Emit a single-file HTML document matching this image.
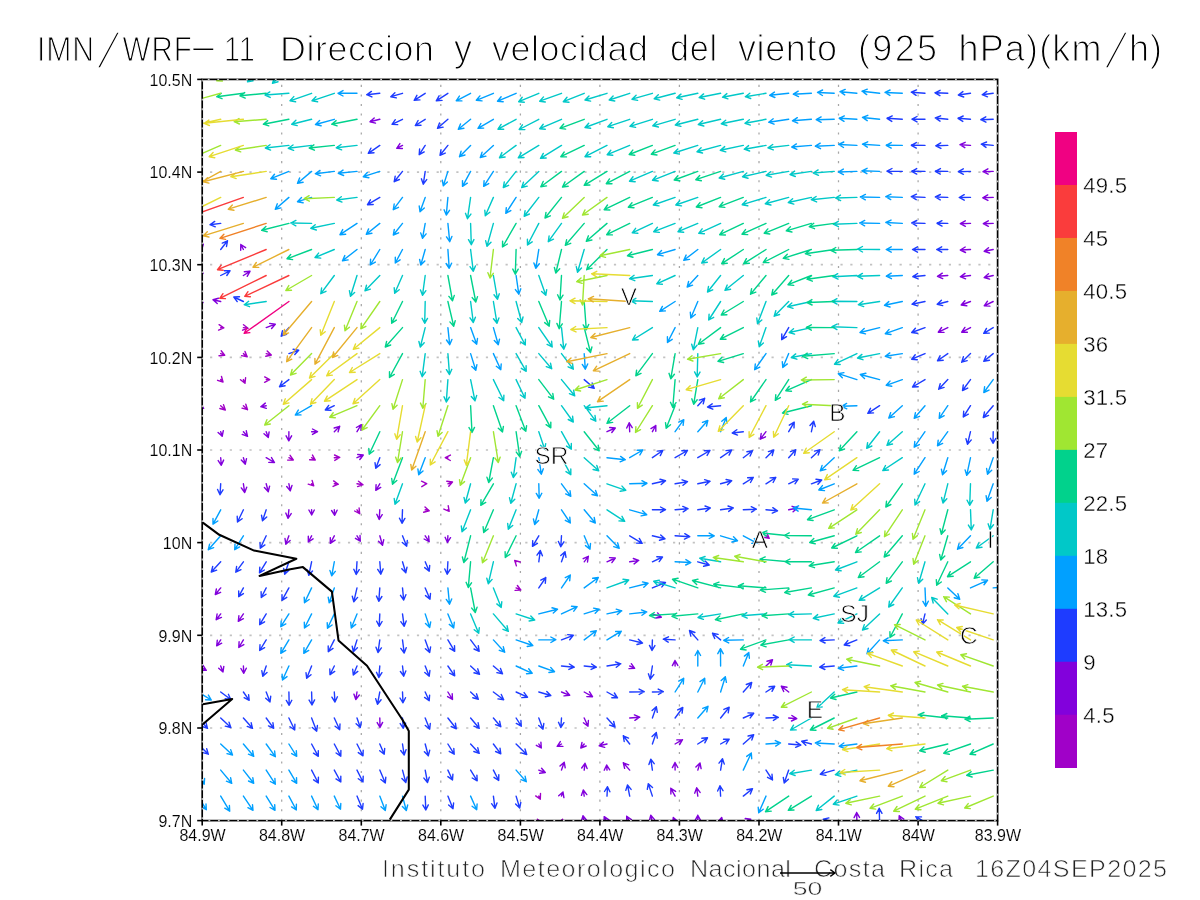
<!DOCTYPE html>
<html lang="es"><head><meta charset="utf-8">
<title>IMN/WRF-11 Direccion y velocidad del viento (925 hPa)(km/h)</title>
<style>
html,body{margin:0;padding:0;background:#fff;}
body{width:1200px;height:900px;overflow:hidden;}
svg{display:block;font-family:"Liberation Sans",sans-serif;will-change:transform;opacity:.999;}
.thin{stroke:#fff;stroke-width:1.3px;paint-order:fill stroke;}
</style></head><body>
<svg width="1200" height="900" viewBox="0 0 1200 900">
<rect width="1200" height="900" fill="#fff"/>
<defs><clipPath id="fr"><rect x="202.2" y="79.4" width="795.4000000000001" height="741.2"/></clipPath></defs>
<g fill="none"><g stroke="#a6a6a6" stroke-width="1.25" stroke-dasharray="2.1 7.43" stroke-dashoffset="4.08"><line x1="281.7" y1="79.4" x2="281.7" y2="820.6"/><line x1="361.3" y1="79.4" x2="361.3" y2="820.6"/><line x1="440.8" y1="79.4" x2="440.8" y2="820.6"/><line x1="520.4" y1="79.4" x2="520.4" y2="820.6"/><line x1="599.9" y1="79.4" x2="599.9" y2="820.6"/><line x1="679.4" y1="79.4" x2="679.4" y2="820.6"/><line x1="759.0" y1="79.4" x2="759.0" y2="820.6"/><line x1="838.5" y1="79.4" x2="838.5" y2="820.6"/><line x1="918.1" y1="79.4" x2="918.1" y2="820.6"/></g><g stroke="#c2c2c2" stroke-width="1.7" stroke-dasharray="2.2 7.65" stroke-dashoffset="2"><line x1="202.2" y1="172.1" x2="997.6" y2="172.1"/><line x1="202.2" y1="264.7" x2="997.6" y2="264.7"/><line x1="202.2" y1="357.4" x2="997.6" y2="357.4"/><line x1="202.2" y1="450.0" x2="997.6" y2="450.0"/><line x1="202.2" y1="542.6" x2="997.6" y2="542.6"/><line x1="202.2" y1="635.3" x2="997.6" y2="635.3"/><line x1="202.2" y1="728.0" x2="997.6" y2="728.0"/></g></g>
<g clip-path="url(#fr)" fill="none" stroke-width="1.4" stroke-linecap="round" stroke-linejoin="round">
<path stroke="#a000c8" d="M220.7 327.6L223.8 327.8M219.1 324.7L223.8 327.8L218.6 330.1M243.4 327.6L248.0 328.3M243.5 324.8L248.0 328.3L242.6 330.2M220.7 353.6L224.7 355.3M221.2 350.8L224.7 355.3L219.0 355.8M243.4 353.6L247.2 356.7M245.0 351.4L247.2 356.7L241.6 355.6M266.2 353.6L271.3 355.0M267.2 351.1L271.3 355.0L265.8 356.3M220.7 379.6L223.0 382.0M221.5 376.5L223.0 382.0L217.6 380.3M243.4 379.6L245.0 383.3M245.6 377.7L245.0 383.3L240.5 379.8M266.2 379.6L269.7 379.7M264.7 376.9L269.7 379.7L264.6 382.3M220.7 405.7L225.3 410.0M223.5 404.6L225.3 410.0L219.8 408.5M243.4 405.7L247.5 409.7M245.8 404.2L247.5 409.7L242.0 408.1M288.9 457.7L293.3 460.0M290.1 455.3L293.3 460.0L287.6 460.1M311.6 457.7L315.3 460.0M312.5 455.1L315.3 460.0L309.6 459.7M334.3 457.7L339.7 457.5M334.5 455.0L339.7 457.5L334.8 460.4M447.9 457.7L445.3 457.7M450.3 460.5L445.3 457.7L450.4 455.1M311.6 483.8L313.7 485.8M312.1 480.4L313.7 485.8L308.2 484.2M334.3 483.8L338.3 484.2M333.6 480.9L338.3 484.2L333.1 486.4M357.0 483.8L363.0 484.7M358.5 481.2L363.0 484.7L357.6 486.6M357.0 509.8L359.7 513.7M359.1 508.0L359.7 513.7L354.6 511.0M425.2 483.8L426.7 483.7M421.5 481.2L426.7 483.7L421.8 486.7M447.9 483.8L452.5 482.0M446.8 481.2L452.5 482.0L448.8 486.3M425.2 509.8L429.2 510.8M425.0 506.9L429.2 510.8L423.6 512.2M447.9 509.8L449.2 511.3M448.2 505.7L449.2 511.3L443.9 509.1M516.1 561.8L514.7 560.5M516.4 565.9L514.7 560.5L520.2 562.0M516.1 587.9L520.8 590.0M517.4 585.5L520.8 590.0L515.1 590.4M766.0 535.8L769.2 538.3M766.9 533.1L769.2 538.3L763.6 537.3M538.8 796.1L540.3 799.2M540.5 793.5L540.3 799.2L535.7 795.9M538.8 822.1L537.5 819.2M537.0 824.8L537.5 819.2L542.0 822.7M561.5 822.1L562.5 819.2M558.3 823.1L562.5 819.2L563.5 824.8"/>
<path stroke="#8200dc" d="M379.8 119.3L370.0 121.7M375.5 123.1L370.0 121.7L374.2 117.9M402.5 145.4L396.7 148.3M402.4 148.5L396.7 148.3L399.9 143.6M970.5 145.4L960.0 144.7M964.8 147.7L960.0 144.7L965.2 142.3M993.2 171.4L983.0 171.7M988.1 174.2L983.0 171.7L987.9 168.8M993.2 197.4L982.8 197.8M987.9 200.4L982.8 197.8L987.7 194.9M198.0 249.5L203.3 244.2M197.9 245.8L203.3 244.2L201.7 249.6M243.4 249.5L240.8 244.5M240.7 250.2L240.8 244.5L245.6 247.7M198.0 275.5L203.0 273.3M197.3 272.8L203.0 273.3L199.5 277.8M243.4 275.5L250.0 271.3M244.3 271.7L250.0 271.3L247.2 276.3M198.0 301.5L203.0 302.5M198.6 298.9L203.0 302.5L197.6 304.2M220.7 301.5L213.0 299.7M217.2 303.5L213.0 299.7L218.5 298.2M266.2 327.6L275.3 324.2M269.7 323.4L275.3 324.2L271.6 328.5M970.5 223.4L960.3 223.7M965.4 226.3L960.3 223.7L965.3 220.8M993.2 223.4L983.3 223.7M988.4 226.3L983.3 223.7L988.3 220.8M970.5 249.5L960.3 250.0M965.5 252.5L960.3 250.0L965.2 247.0M993.2 249.5L984.2 251.3M989.6 253.0L984.2 251.3L988.5 247.7M947.8 275.5L937.5 276.3M942.7 278.6L937.5 276.3L942.3 273.2M970.5 275.5L960.3 276.7M965.6 278.8L960.3 276.7L965.0 273.4M993.2 275.5L984.2 277.5M989.6 279.1L984.2 277.5L988.5 273.8M970.5 301.5L961.2 305.0M966.8 305.8L961.2 305.0L964.9 300.7M993.2 301.5L984.2 305.8M989.9 306.1L984.2 305.8L987.5 301.2M947.8 327.6L938.3 332.2M944.0 332.4L938.3 332.2L941.6 327.5M970.5 327.6L961.7 332.2M967.4 332.3L961.7 332.2L964.9 327.4M198.0 405.7L203.7 408.3M200.3 403.7L203.7 408.3L198.0 408.7M266.2 405.7L260.8 406.7M266.3 408.4L260.8 406.7L265.3 403.1M220.7 431.7L222.2 436.3M223.3 430.7L222.2 436.3L218.1 432.4M243.4 431.7L247.5 436.3M246.3 430.8L247.5 436.3L242.2 434.4M266.2 431.7L268.3 437.5M269.1 431.9L268.3 437.5L264.0 433.8M288.9 431.7L288.8 440.8M291.6 435.8L288.8 440.8L286.1 435.8M311.6 431.7L317.5 431.7M312.5 429.0L317.5 431.7L312.5 434.4M334.3 431.7L339.7 426.3M334.2 428.0L339.7 426.3L338.1 431.8M357.0 431.7L361.3 424.7M356.4 427.5L361.3 424.7L361.0 430.4M220.7 457.7L221.3 465.3M223.6 460.1L221.3 465.3L218.2 460.6M243.4 457.7L245.3 464.2M246.5 458.6L245.3 464.2L241.3 460.1M266.2 457.7L274.5 462.5M271.5 457.6L274.5 462.5L268.8 462.4M357.0 457.7L363.3 455.0M357.7 454.5L363.3 455.0L359.8 459.5M607.0 431.7L615.3 428.0M609.7 427.5L615.3 428.0L611.8 432.5M629.7 431.7L629.2 422.8M626.7 428.0L629.2 422.8L632.2 427.7M652.4 431.7L655.8 425.5M651.0 428.6L655.8 425.5L655.8 431.2M766.0 431.7L760.3 439.2M765.5 436.8L760.3 439.2L761.2 433.5M243.4 483.8L244.7 492.5M246.7 487.2L244.7 492.5L241.3 487.9M266.2 483.8L268.3 491.7M269.6 486.1L268.3 491.7L264.4 487.6M288.9 483.8L290.3 490.8M292.0 485.4L290.3 490.8L286.7 486.5M379.8 483.8L375.8 490.3M380.7 487.4L375.8 490.3L376.1 484.6M288.9 509.8L288.0 518.3M291.2 513.6L288.0 518.3L285.8 513.1M311.6 509.8L311.7 515.0M314.3 510.0L311.7 515.0L308.9 510.0M334.3 509.8L334.7 515.3M337.1 510.2L334.7 515.3L331.6 510.5M379.8 509.8L379.2 519.5M382.2 514.7L379.2 519.5L376.8 514.3M288.9 535.8L285.8 544.2M290.1 540.4L285.8 544.2L285.0 538.5M311.6 535.8L308.3 542.0M313.1 538.8L308.3 542.0L308.3 536.3M334.3 535.8L330.3 543.3M335.1 540.2L330.3 543.3L330.3 537.6M357.0 535.8L360.3 541.2M360.0 535.5L360.3 541.2L355.4 538.3M379.8 535.8L382.5 545.3M383.7 539.8L382.5 545.3L378.5 541.3M220.7 587.9L215.3 594.5M220.6 592.3L215.3 594.5L216.4 588.9M425.2 535.8L429.2 541.7M428.6 536.0L429.2 541.7L424.1 539.0M447.9 535.8L447.5 542.5M450.5 537.7L447.5 542.5L445.1 537.3M584.2 561.8L588.3 556.3M583.2 558.7L588.3 556.3L587.5 562.0M788.7 509.8L797.5 508.0M792.1 506.3L797.5 508.0L793.1 511.7M607.0 561.8L615.3 558.0M609.6 557.6L615.3 558.0L611.9 562.6M629.7 561.8L638.7 560.5M633.3 558.5L638.7 560.5L634.1 563.9M220.7 613.9L216.2 619.7M221.4 617.4L216.2 619.7L217.1 614.0M243.4 613.9L238.3 621.3M243.4 618.7L238.3 621.3L238.9 615.7M220.7 639.9L216.7 645.8M221.7 643.2L216.7 645.8L217.3 640.2M243.4 639.9L238.8 647.5M243.8 644.6L238.8 647.5L239.1 641.8M198.0 666.0L206.3 670.3M203.2 665.6L206.3 670.3L200.6 670.4M220.7 666.0L223.0 672.0M223.8 666.4L223.0 672.0L218.7 668.3M243.4 666.0L243.8 673.3M246.3 668.2L243.8 673.3L240.9 668.5M357.0 692.0L355.8 699.5M359.3 695.0L355.8 699.5L353.9 694.1M379.8 718.0L380.0 727.5M382.6 722.4L380.0 727.5L377.2 722.6M447.9 692.0L452.5 699.5M452.2 693.8L452.5 699.5L447.6 696.6M561.5 692.0L569.7 695.3M566.1 690.9L569.7 695.3L564.0 695.9M584.2 692.0L592.5 696.7M589.5 691.8L592.5 696.7L586.8 696.6M584.2 718.0L588.0 726.2M588.4 720.5L588.0 726.2L583.4 722.8M652.4 613.9L661.3 617.2M657.6 612.9L661.3 617.2L655.7 618.0M629.7 666.0L634.7 668.3M631.3 663.7L634.7 668.3L629.0 668.6M675.1 666.0L675.0 660.5M672.4 665.6L675.0 660.5L677.8 665.4M766.0 666.0L772.5 659.7M767.0 661.2L772.5 659.7L770.8 665.1M788.7 692.0L781.3 686.3M783.7 691.5L781.3 686.3L787.0 687.2M629.7 718.0L639.7 717.2M634.4 714.9L639.7 717.2L634.9 720.3M788.7 718.0L796.7 718.7M791.9 715.5L796.7 718.7L791.5 721.0M538.8 744.0L541.3 748.0M540.9 742.3L541.3 748.0L536.3 745.3M561.5 744.0L557.2 746.3M562.9 746.4L557.2 746.3L560.3 741.6M584.2 744.0L580.8 748.0M586.2 746.0L580.8 748.0L582.0 742.4M538.8 770.1L545.3 772.5M541.6 768.2L545.3 772.5L539.7 773.3M561.5 770.1L564.2 762.2M560.0 766.1L564.2 762.2L565.2 767.8M584.2 770.1L585.0 763.3M581.7 768.0L585.0 763.3L587.1 768.6M561.5 796.1L563.0 792.0M558.7 795.8L563.0 792.0L563.9 797.6M584.2 796.1L583.3 790.0M581.4 795.4L583.3 790.0L586.8 794.6M584.2 822.1L583.0 815.8M581.3 821.3L583.0 815.8L586.6 820.2M607.0 744.0L599.2 745.8M604.7 747.4L599.2 745.8L603.4 742.1M675.1 744.0L682.5 739.7M676.8 739.9L682.5 739.7L679.6 744.6M607.0 770.1L606.7 765.0M604.2 770.2L606.7 765.0L609.7 769.8M629.7 770.1L623.3 762.8M624.6 768.4L623.3 762.8L628.7 764.8M675.1 770.1L675.0 762.5M672.4 767.6L675.0 762.5L677.8 767.5M697.8 770.1L700.0 763.0M695.9 767.0L700.0 763.0L701.1 768.6M675.1 796.1L670.8 788.3M670.9 794.0L670.8 788.3L675.6 791.4M697.8 796.1L696.7 787.8M694.7 793.2L696.7 787.8L700.1 792.4M607.0 822.1L604.2 816.7M604.0 822.4L604.2 816.7L608.9 819.9M629.7 822.1L626.7 816.3M626.6 822.0L626.7 816.3L631.4 819.5M652.4 822.1L650.8 815.3M649.3 820.8L650.8 815.3L654.6 819.6M675.1 822.1L673.3 817.5M672.6 823.2L673.3 817.5L677.7 821.2M697.8 822.1L697.8 815.3M695.1 820.3L697.8 815.3L700.6 820.3M720.6 822.1L721.7 817.5M717.9 821.7L721.7 817.5L723.2 823.0M743.3 822.1L750.8 819.2M745.2 818.5L750.8 819.2L747.2 823.5M856.9 822.1L856.7 812.5M854.1 817.6L856.7 812.5L859.5 817.4M902.3 822.1L899.2 815.8M899.0 821.5L899.2 815.8L903.8 819.1"/>
<path stroke="#1e3cff" d="M379.8 93.3L366.7 94.7M371.9 96.9L366.7 94.7L371.4 91.4M379.8 145.4L368.3 153.3M374.0 152.7L368.3 153.3L370.9 148.2M379.8 197.4L367.5 204.7M373.2 204.5L367.5 204.7L370.4 199.8M402.5 93.3L390.8 96.7M396.4 97.9L390.8 96.7L394.9 92.7M425.2 93.3L414.2 100.3M419.9 99.9L414.2 100.3L416.9 95.3M447.9 93.3L436.3 100.8M442.0 100.4L436.3 100.8L439.1 95.8M402.5 119.3L392.0 124.3M397.7 124.6L392.0 124.3L395.3 119.7M425.2 119.3L415.3 125.5M421.0 125.2L415.3 125.5L418.1 120.5M447.9 119.3L437.5 128.3M443.1 127.1L437.5 128.3L439.5 123.0M425.2 145.4L419.2 154.7M424.2 151.9L419.2 154.7L419.6 149.0M447.9 145.4L440.0 155.3M445.2 153.1L440.0 155.3L441.0 149.7M402.5 171.4L394.2 181.7M399.4 179.5L394.2 181.7L395.2 176.1M425.2 171.4L423.3 184.2M426.7 179.6L423.3 184.2L421.4 178.8M925.0 93.3L911.3 92.2M916.1 95.3L911.3 92.2L916.5 89.9M947.8 93.3L935.0 92.8M939.9 95.7L935.0 92.8L940.1 90.3M970.5 93.3L958.3 95.0M963.7 97.0L958.3 95.0L962.9 91.6M993.2 93.3L982.2 94.7M987.5 96.8L982.2 94.7L986.8 91.4M902.3 119.3L887.0 118.3M891.8 121.4L887.0 118.3L892.2 115.9M925.0 119.3L912.0 119.2M917.0 121.9L912.0 119.2L917.0 116.5M947.8 119.3L935.3 118.0M940.0 121.2L935.3 118.0L940.6 115.8M970.5 119.3L958.0 118.3M962.8 121.4L958.0 118.3L963.2 116.0M993.2 119.3L980.8 119.7M985.9 122.2L980.8 119.7L985.8 116.8M925.0 145.4L911.3 145.3M916.3 148.1L911.3 145.3L916.3 142.6M947.8 145.4L935.8 145.8M940.9 148.4L935.8 145.8L940.7 142.9M993.2 145.4L981.3 144.2M986.0 147.4L981.3 144.2L986.6 142.0M902.3 171.4L887.0 171.2M892.0 174.0L887.0 171.2L892.0 168.5M925.0 171.4L911.7 171.3M916.7 174.1L911.7 171.3L916.7 168.6M947.8 171.4L935.3 171.3M940.3 174.1L935.3 171.3L940.4 168.6M970.5 171.4L958.3 171.7M963.4 174.3L958.3 171.7L963.3 168.8M925.0 197.4L911.3 196.7M916.2 199.7L911.3 196.7L916.5 194.2M947.8 197.4L935.3 197.0M940.2 199.9L935.3 197.0L940.4 194.5M970.5 197.4L959.2 197.5M964.2 200.2L959.2 197.5L964.2 194.7M220.7 223.4L210.0 224.7M215.3 226.8L210.0 224.7L214.7 221.4M220.7 249.5L227.5 240.8M222.3 243.1L227.5 240.8L226.5 246.5M220.7 275.5L230.0 270.8M224.3 270.7L230.0 270.8L226.8 275.5M243.4 301.5L233.8 297.0M237.2 301.6L233.8 297.0L239.5 296.7M288.9 327.6L281.2 336.2M286.5 334.3L281.2 336.2L282.5 330.6M788.7 327.6L781.7 339.7M786.5 336.7L781.7 339.7L781.8 334.0M925.0 223.4L911.7 223.0M916.6 225.9L911.7 223.0L916.8 220.5M947.8 223.4L937.0 223.3M942.0 226.1L937.0 223.3L942.0 220.7M925.0 249.5L912.5 249.5M917.5 252.2L912.5 249.5L917.5 246.8M947.8 249.5L936.7 249.5M941.7 252.2L936.7 249.5L941.7 246.8M925.0 275.5L912.8 276.7M918.1 278.9L912.8 276.7L917.6 273.5M925.0 301.5L912.0 304.2M917.4 305.8L912.0 304.2L916.4 300.5M947.8 301.5L937.2 304.2M942.7 305.6L937.2 304.2L941.4 300.3M925.0 327.6L911.7 332.5M917.3 333.3L911.7 332.5L915.4 328.2M993.2 327.6L983.7 333.3M989.4 333.1L983.7 333.3L986.5 328.4M288.9 353.6L298.7 350.3M293.1 349.3L298.7 350.3L294.8 354.5M288.9 379.6L279.5 386.7M285.1 385.8L279.5 386.7L281.9 381.5M334.3 405.7L325.3 410.0M331.0 410.3L325.3 410.0L328.7 405.4M379.8 457.7L375.8 468.3M380.1 464.6L375.8 468.3L375.0 462.7M584.2 379.6L594.2 388.3M592.2 383.0L594.2 388.3L588.6 387.1M697.8 405.7L704.7 398.3M699.3 400.1L704.7 398.3L703.2 403.9M720.6 405.7L707.5 407.0M712.8 409.2L707.5 407.0L712.2 403.8M743.3 431.7L732.2 433.0M737.5 435.1L732.2 433.0L736.8 429.7M788.7 431.7L794.2 422.2M789.3 425.2L794.2 422.2L794.0 427.9M652.4 457.7L662.8 450.5M657.2 451.1L662.8 450.5L660.3 455.6M675.1 457.7L687.5 450.5M681.8 450.7L687.5 450.5L684.5 455.4M697.8 457.7L710.0 450.5M704.3 450.7L710.0 450.5L707.1 455.4M720.6 457.7L731.7 450.0M726.0 450.6L731.7 450.0L729.1 455.1M743.3 457.7L752.5 450.8M746.9 451.7L752.5 450.8L750.1 456.0M766.0 457.7L773.8 450.0M768.4 451.6L773.8 450.0L772.2 455.5M788.7 457.7L795.8 449.7M790.5 451.6L795.8 449.7L794.6 455.2M925.0 353.6L911.7 359.2M917.3 359.8L911.7 359.2L915.2 354.7M947.8 353.6L937.5 360.8M943.2 360.2L937.5 360.8L940.0 355.7M970.5 353.6L961.7 362.2M967.2 360.6L961.7 362.2L963.4 356.7M993.2 353.6L983.8 361.3M989.4 360.2L983.8 361.3L986.0 356.0M925.0 379.6L912.5 387.0M918.2 386.8L912.5 387.0L915.4 382.1M947.8 379.6L938.7 389.2M944.1 387.4L938.7 389.2L940.2 383.7M970.5 379.6L962.5 390.5M967.7 388.1L962.5 390.5L963.3 384.9M879.6 405.7L867.8 413.3M873.5 412.9L867.8 413.3L870.5 408.3M970.5 405.7L963.3 417.0M968.3 414.2L963.3 417.0L963.7 411.3M993.2 405.7L983.3 417.5M988.6 415.4L983.3 417.5L984.5 411.9M811.4 431.7L813.7 421.2M810.0 425.5L813.7 421.2L815.3 426.6M970.5 431.7L967.5 444.2M971.3 439.9L967.5 444.2L966.0 438.7M993.2 431.7L993.0 443.3M995.8 438.4L993.0 443.3L990.4 438.3M811.4 457.7L820.0 449.7M814.5 451.1L820.0 449.7L818.2 455.1M220.7 483.8L220.0 494.7M223.0 489.8L220.0 494.7L217.6 489.5M243.4 509.8L237.5 522.0M242.1 518.7L237.5 522.0L237.2 516.3M266.2 509.8L262.5 520.8M266.7 516.9L262.5 520.8L261.5 515.2M266.2 535.8L260.3 548.3M264.9 544.9L260.3 548.3L260.0 542.6M220.7 561.8L211.3 572.0M216.7 570.2L211.3 572.0L212.7 566.5M243.4 561.8L235.8 572.2M241.0 569.7L235.8 572.2L236.6 566.5M266.2 561.8L259.5 572.8M264.4 570.0L259.5 572.8L259.8 567.1M288.9 561.8L284.7 574.2M288.9 570.3L284.7 574.2L283.7 568.5M311.6 561.8L308.8 575.3M312.5 571.0L308.8 575.3L307.2 569.9M357.0 561.8L356.2 574.5M359.2 569.7L356.2 574.5L353.8 569.3M379.8 561.8L380.8 574.2M383.1 568.9L380.8 574.2L377.7 569.4M243.4 587.9L238.7 596.7M243.4 593.6L238.7 596.7L238.7 591.0M266.2 587.9L261.3 597.5M266.0 594.2L261.3 597.5L261.1 591.8M288.9 587.9L282.0 600.3M286.8 597.3L282.0 600.3L282.0 594.6M357.0 587.9L353.8 601.7M357.6 597.4L353.8 601.7L352.3 596.2M379.8 587.9L378.8 601.3M381.9 596.5L378.8 601.3L376.5 596.1M402.5 509.8L402.0 523.3M404.9 518.4L402.0 523.3L399.5 518.2M402.5 535.8L406.7 546.2M407.3 540.5L406.7 546.2L402.3 542.5M538.8 535.8L532.5 546.3M537.4 543.4L532.5 546.3L532.7 540.6M561.5 535.8L560.8 546.7M563.9 541.8L560.8 546.7L558.4 541.5M402.5 561.8L405.8 572.8M407.0 567.2L405.8 572.8L401.8 568.8M425.2 561.8L429.2 571.2M429.7 565.5L429.2 571.2L424.7 567.6M447.9 561.8L447.2 574.2M450.2 569.3L447.2 574.2L444.8 569.0M538.8 561.8L540.3 550.5M537.0 555.1L540.3 550.5L542.4 555.8M561.5 561.8L565.0 551.7M560.8 555.5L565.0 551.7L566.0 557.3M402.5 587.9L403.7 600.0M405.9 594.7L403.7 600.0L400.5 595.3M425.2 587.9L430.0 599.2M430.5 593.5L430.0 599.2L425.5 595.6M538.8 587.9L545.8 577.5M540.8 580.1L545.8 577.5L545.3 583.2M652.4 483.8L665.5 480.8M660.0 479.3L665.5 480.8L661.2 484.6M675.1 483.8L687.5 481.7M682.1 479.8L687.5 481.7L683.0 485.2M697.8 483.8L710.0 481.3M704.6 479.6L710.0 481.3L705.6 485.0M720.6 483.8L731.7 480.8M726.1 479.5L731.7 480.8L727.5 484.7M743.3 483.8L753.3 477.5M747.6 477.8L753.3 477.5L750.5 482.5M766.0 483.8L775.8 477.5M770.1 477.9L775.8 477.5L773.1 482.5M788.7 483.8L798.3 479.2M792.6 478.9L798.3 479.2L795.0 483.8M652.4 509.8L665.5 509.7M660.5 507.0L665.5 509.7L660.5 512.4M675.1 509.8L688.0 508.7M682.8 506.4L688.0 508.7L683.2 511.8M697.8 509.8L710.3 508.0M705.0 506.0L710.3 508.0L705.8 511.4M720.6 509.8L733.3 508.0M728.0 506.0L733.3 508.0L728.7 511.4M743.3 509.8L756.3 509.2M751.2 506.7L756.3 509.2L751.5 512.1M766.0 509.8L777.5 510.8M772.8 507.7L777.5 510.8L772.3 513.1M629.7 535.8L642.2 543.3M639.3 538.4L642.2 543.3L636.5 543.1M652.4 535.8L665.0 538.7M660.7 534.9L665.0 538.7L659.5 540.2M675.1 535.8L689.7 536.7M684.8 533.7L689.7 536.7L684.5 539.1M652.4 561.8L662.5 557.0M656.8 556.7L662.5 557.0L659.2 561.6M697.8 561.8L709.2 565.0M705.1 561.0L709.2 565.0L703.6 566.3M652.4 587.9L665.5 582.5M659.8 581.9L665.5 582.5L661.9 586.9M811.4 483.8L821.7 480.0M816.0 479.2L821.7 480.0L817.9 484.3M266.2 613.9L259.7 624.7M264.6 621.8L259.7 624.7L259.9 619.0M379.8 613.9L379.2 626.3M382.1 621.5L379.2 626.3L376.7 621.2M266.2 639.9L259.7 650.5M264.6 647.7L259.7 650.5L260.0 644.8M334.3 639.9L328.3 651.7M333.0 648.4L328.3 651.7L328.2 646.0M357.0 639.9L353.3 651.7M357.4 647.7L353.3 651.7L352.2 646.1M379.8 639.9L378.0 652.5M381.4 647.9L378.0 652.5L376.0 647.2M266.2 666.0L262.8 676.3M267.0 672.4L262.8 676.3L261.8 670.7M311.6 666.0L306.7 678.3M311.0 674.7L306.7 678.3L306.0 672.7M334.3 666.0L330.0 674.7M334.7 671.4L330.0 674.7L329.8 669.0M357.0 666.0L353.3 675.0M357.8 671.4L353.3 675.0L352.7 669.3M379.8 666.0L378.8 677.5M381.9 672.7L378.8 677.5L376.5 672.3M220.7 692.0L230.8 699.5M228.4 694.3L230.8 699.5L225.2 698.7M243.4 692.0L249.2 700.3M248.6 694.7L249.2 700.3L244.1 697.7M266.2 692.0L270.0 702.0M270.7 696.3L270.0 702.0L265.7 698.3M288.9 692.0L289.2 705.3M291.8 700.3L289.2 705.3L286.3 700.4M311.6 692.0L312.0 705.0M314.6 699.9L312.0 705.0L309.1 700.1M334.3 692.0L335.0 702.0M337.4 696.8L335.0 702.0L331.9 697.2M379.8 692.0L377.5 704.2M381.1 699.7L377.5 704.2L375.7 698.7M198.0 718.0L207.5 728.3M206.1 722.8L207.5 728.3L202.1 726.5M220.7 718.0L230.8 727.5M229.0 722.1L230.8 727.5L225.3 726.1M243.4 718.0L252.5 728.3M251.2 722.8L252.5 728.3L247.2 726.4M266.2 718.0L273.7 728.3M272.9 722.7L273.7 728.3L268.5 725.9M288.9 718.0L294.7 730.0M294.9 724.3L294.7 730.0L290.0 726.7M311.6 718.0L316.7 731.2M317.4 725.5L316.7 731.2L312.3 727.5M334.3 718.0L339.7 729.7M340.0 724.0L339.7 729.7L335.1 726.2M357.0 718.0L360.3 727.5M361.3 721.9L360.3 727.5L356.1 723.7M402.5 613.9L404.2 626.3M406.2 621.0L404.2 626.3L400.8 621.7M402.5 639.9L404.2 653.0M406.2 647.7L404.2 653.0L400.8 648.4M425.2 639.9L429.7 652.5M430.6 646.9L429.7 652.5L425.4 648.7M447.9 639.9L454.7 651.3M454.5 645.6L454.7 651.3L449.8 648.4M470.6 639.9L479.2 651.3M478.3 645.7L479.2 651.3L474.0 649.0M561.5 639.9L573.3 635.3M567.7 634.6L573.3 635.3L569.7 639.7M402.5 666.0L403.7 676.2M405.8 670.9L403.7 676.2L400.4 671.5M425.2 666.0L429.2 676.2M429.9 670.5L429.2 676.2L424.8 672.5M447.9 666.0L454.7 675.8M454.1 670.2L454.7 675.8L449.6 673.2M470.6 666.0L479.5 674.2M477.7 668.8L479.5 674.2L474.0 672.8M493.4 666.0L502.5 673.8M500.5 668.5L502.5 673.8L496.9 672.6M561.5 666.0L574.2 667.2M569.4 664.0L574.2 667.2L568.9 669.4M584.2 666.0L596.3 667.2M591.6 664.0L596.3 667.2L591.1 669.4M402.5 692.0L403.0 702.8M405.5 697.7L403.0 702.8L400.0 698.0M425.2 692.0L429.2 700.8M429.6 695.1L429.2 700.8L424.6 697.4M470.6 692.0L478.3 699.2M476.5 693.8L478.3 699.2L472.8 697.7M493.4 692.0L503.7 699.7M501.3 694.5L503.7 699.7L498.0 698.9M516.1 692.0L527.5 697.2M524.1 692.6L527.5 697.2L521.8 697.6M538.8 692.0L550.8 695.5M546.8 691.5L550.8 695.5L545.3 696.7M402.5 718.0L403.3 728.3M405.6 723.1L403.3 728.3L400.2 723.6M425.2 718.0L429.7 729.2M430.3 723.5L429.7 729.2L425.3 725.5M447.9 718.0L456.3 728.8M455.4 723.2L456.3 728.8L451.1 726.5M470.6 718.0L479.2 728.3M478.1 722.7L479.2 728.3L473.9 726.2M493.4 718.0L500.8 726.7M499.6 721.1L500.8 726.7L495.5 724.7M516.1 718.0L521.3 726.2M520.9 720.5L521.3 726.2L516.3 723.4M538.8 718.0L543.0 729.2M543.8 723.5L543.0 729.2L538.7 725.4M561.5 718.0L560.8 727.5M563.9 722.7L560.8 727.5L558.5 722.3M629.7 639.9L642.5 643.0M638.3 639.2L642.5 643.0L637.0 644.5M652.4 639.9L652.0 650.5M654.9 645.6L652.0 650.5L649.5 645.4M675.1 639.9L663.3 639.2M668.2 642.2L663.3 639.2L668.5 636.8M697.8 639.9L689.5 630.5M690.8 636.1L689.5 630.5L694.9 632.5M720.6 639.9L712.5 633.3M714.7 638.6L712.5 633.3L718.1 634.4M607.0 666.0L620.8 663.8M615.5 661.9L620.8 663.8L616.3 667.3M652.4 666.0L650.3 679.2M653.8 674.6L650.3 679.2L648.4 673.8M607.0 692.0L617.5 697.8M614.4 693.0L617.5 697.8L611.8 697.8M629.7 692.0L644.2 691.7M639.1 689.1L644.2 691.7L639.2 694.5M652.4 692.0L663.3 691.7M658.2 689.1L663.3 691.7L658.4 694.5M743.3 692.0L751.7 682.5M746.3 684.5L751.7 682.5L750.4 688.1M766.0 692.0L774.7 686.3M769.0 686.8L774.7 686.3L772.0 691.3M607.0 718.0L615.0 727.0M613.7 721.5L615.0 727.0L609.6 725.1M652.4 718.0L656.3 706.7M652.1 710.5L656.3 706.7L657.3 712.3M675.1 718.0L682.8 707.5M677.7 709.9L682.8 707.5L682.1 713.1M720.6 718.0L729.2 707.2M723.9 709.4L729.2 707.2L728.2 712.8M743.3 718.0L753.7 713.3M748.0 712.9L753.7 713.3L750.2 717.9M766.0 718.0L778.3 717.5M773.2 715.0L778.3 717.5L773.4 720.4M925.0 613.9L922.5 624.2M926.3 620.0L922.5 624.2L921.1 618.7M834.2 639.9L820.0 640.5M825.1 643.0L820.0 640.5L824.9 637.6M856.9 639.9L844.2 645.0M849.8 645.7L844.2 645.0L847.8 640.6M834.2 666.0L819.7 667.2M824.9 669.5L819.7 667.2L824.4 664.0M198.0 744.0L208.3 754.2M206.7 748.7L208.3 754.2L202.9 752.6M311.6 744.0L318.3 756.3M318.3 750.6L318.3 756.3L313.5 753.2M334.3 744.0L340.8 756.2M340.9 750.5L340.8 756.2L336.1 753.0M357.0 744.0L363.0 755.8M363.2 750.1L363.0 755.8L358.3 752.6M379.8 744.0L384.2 754.2M384.7 748.5L384.2 754.2L379.7 750.7M311.6 770.1L318.3 783.0M318.4 777.3L318.3 783.0L313.6 779.8M334.3 770.1L340.8 782.0M340.8 776.3L340.8 782.0L336.0 778.9M357.0 770.1L363.0 782.0M363.2 776.3L363.0 782.0L358.3 778.7M379.8 770.1L385.3 783.0M385.8 777.3L385.3 783.0L380.9 779.5M357.0 796.1L362.5 809.2M363.1 803.5L362.5 809.2L358.1 805.6M402.5 744.0L404.2 755.0M406.1 749.6L404.2 755.0L400.7 750.5M425.2 744.0L428.3 755.8M429.7 750.3L428.3 755.8L424.4 751.7M447.9 744.0L454.2 754.2M453.8 748.5L454.2 754.2L449.2 751.3M470.6 744.0L479.2 753.3M477.8 747.8L479.2 753.3L473.8 751.5M493.4 744.0L500.8 753.8M500.0 748.2L500.8 753.8L495.6 751.5M516.1 744.0L526.7 754.5M525.0 749.0L526.7 754.5L521.2 752.9M402.5 770.1L405.8 782.5M407.2 777.0L405.8 782.5L401.9 778.4M425.2 770.1L427.5 782.5M429.3 777.1L427.5 782.5L423.9 778.1M447.9 770.1L452.5 780.0M452.9 774.3L452.5 780.0L447.9 776.6M470.6 770.1L477.2 780.8M476.9 775.1L477.2 780.8L472.2 778.0M493.4 770.1L498.7 780.5M498.8 774.8L498.7 780.5L494.0 777.3M425.2 796.1L425.8 810.0M428.3 804.9L425.8 810.0L422.9 805.1M447.9 796.1L453.0 808.7M453.6 803.0L453.0 808.7L448.6 805.0M493.4 796.1L495.0 808.3M497.0 803.0L495.0 808.3L491.6 803.7M516.1 796.1L519.7 808.0M520.8 802.4L519.7 808.0L515.6 804.0M629.7 744.0L623.3 735.8M624.2 741.5L623.3 735.8L628.5 738.1M652.4 744.0L656.3 732.5M652.1 736.4L656.3 732.5L657.3 738.1M697.8 744.0L707.5 737.8M701.8 738.3L707.5 737.8L704.8 742.8M720.6 744.0L729.2 739.2M723.5 739.3L729.2 739.2L726.2 744.0M743.3 744.0L753.7 734.7M748.1 736.0L753.7 734.7L751.8 740.0M788.7 744.0L800.8 745.0M796.1 741.9L800.8 745.0L795.6 747.3M652.4 770.1L650.8 759.2M648.9 764.5L650.8 759.2L654.2 763.7M720.6 770.1L722.5 758.7M719.0 763.1L722.5 758.7L724.3 764.1M766.0 770.1L772.5 780.0M772.0 774.3L772.5 780.0L767.5 777.3M788.7 770.1L784.2 783.0M788.4 779.2L784.2 783.0L783.3 777.4M607.0 796.1L607.5 786.7M604.5 791.5L607.5 786.7L609.9 791.8M629.7 796.1L627.5 785.0M625.8 790.4L627.5 785.0L631.1 789.4M652.4 796.1L648.3 783.7M647.3 789.3L648.3 783.7L652.5 787.6M720.6 796.1L720.0 785.8M717.6 791.0L720.0 785.8L723.0 790.7M743.3 796.1L752.5 788.7M746.9 789.7L752.5 788.7L750.3 793.9M811.4 744.0L801.7 741.3M805.8 745.3L801.7 741.3L807.2 740.1M834.2 770.1L820.3 774.2M825.9 775.4L820.3 774.2L824.4 770.1M834.2 822.1L823.3 819.2M827.4 823.1L823.3 819.2L828.9 817.9M879.6 822.1L879.2 808.3M876.6 813.4L879.2 808.3L882.0 813.3M925.0 822.1L915.8 816.7M918.7 821.6L915.8 816.7L921.5 816.9"/>
<path stroke="#00a0ff" d="M357.0 93.3L338.0 93.3M343.0 96.0L338.0 93.3L343.0 90.6M334.3 119.3L315.5 124.5M321.1 125.8L315.5 124.5L319.6 120.6M288.9 171.4L270.8 178.7M276.5 179.3L270.8 178.7L274.5 174.3M311.6 171.4L297.5 183.3M303.1 182.2L297.5 183.3L299.6 178.0M334.3 171.4L315.3 173.7M320.6 175.8L315.3 173.7L320.0 170.4M357.0 171.4L338.3 173.3M343.6 175.5L338.3 173.3L343.0 170.1M379.8 171.4L363.3 176.7M368.9 177.7L363.3 176.7L367.3 172.5M288.9 197.4L275.3 209.2M280.9 207.9L275.3 209.2L277.3 203.8M311.6 197.4L297.5 201.7M303.1 202.8L297.5 201.7L301.5 197.6M470.6 93.3L456.2 100.8M461.9 100.9L456.2 100.8L459.4 96.1M493.4 93.3L476.3 100.3M482.0 100.9L476.3 100.3L479.9 95.9M516.1 93.3L497.5 101.2M503.2 101.7L497.5 101.2L501.1 96.7M470.6 119.3L458.3 129.2M463.9 128.2L458.3 129.2L460.5 123.9M493.4 119.3L478.0 128.3M483.7 128.1L478.0 128.3L480.9 123.5M470.6 145.4L459.5 156.7M465.0 155.0L459.5 156.7L461.1 151.2M493.4 145.4L480.3 157.5M485.9 156.1L480.3 157.5L482.1 152.1M447.9 171.4L443.3 185.8M447.4 181.9L443.3 185.8L442.3 180.2M470.6 171.4L462.5 186.3M467.3 183.2L462.5 186.3L462.5 180.6M493.4 171.4L483.7 186.3M488.7 183.6L483.7 186.3L484.1 180.7M402.5 197.4L393.3 209.7M398.5 207.3L393.3 209.7L394.2 204.0M425.2 197.4L420.0 211.7M424.3 207.9L420.0 211.7L419.2 206.0M447.9 197.4L446.3 215.0M449.5 210.3L446.3 215.0L444.1 209.8M516.1 197.4L505.8 213.3M510.8 210.6L505.8 213.3L506.3 207.6M788.7 93.3L769.7 95.3M774.9 97.5L769.7 95.3L774.4 92.1M788.7 119.3L768.7 122.2M774.0 124.2L768.7 122.2L773.2 118.8M811.4 93.3L793.3 94.2M798.5 96.6L793.3 94.2L798.2 91.2M834.2 93.3L817.5 92.5M822.4 95.5L817.5 92.5L822.6 90.0M856.9 93.3L840.0 91.7M844.7 94.9L840.0 91.7L845.2 89.4M879.6 93.3L862.0 91.3M866.7 94.6L862.0 91.3L867.3 89.2M902.3 93.3L885.0 92.5M889.9 95.4L885.0 92.5L890.1 90.0M811.4 119.3L792.5 120.8M797.7 123.1L792.5 120.8L797.3 117.7M834.2 119.3L816.2 119.7M821.2 122.3L816.2 119.7L821.1 116.9M856.9 119.3L839.2 118.3M844.0 121.3L839.2 118.3L844.3 115.9M879.6 119.3L862.5 117.5M867.2 120.7L862.5 117.5L867.8 115.3M811.4 145.4L791.7 147.0M796.9 149.3L791.7 147.0L796.4 143.9M834.2 145.4L815.3 146.2M820.5 148.7L815.3 146.2L820.2 143.2M856.9 145.4L838.7 144.5M843.5 147.5L838.7 144.5L843.8 142.0M879.6 145.4L862.5 144.2M867.3 147.2L862.5 144.2L867.7 141.8M902.3 145.4L886.2 145.3M891.2 148.1L886.2 145.3L891.2 142.6M856.9 171.4L838.3 172.0M843.4 174.6L838.3 172.0L843.3 169.1M879.6 171.4L862.0 170.8M866.9 173.7L862.0 170.8L867.1 168.3M879.6 197.4L860.3 197.0M865.3 199.8L860.3 197.0L865.4 194.4M902.3 197.4L885.8 196.7M890.7 199.6L885.8 196.7L891.0 194.2M357.0 223.4L340.0 234.7M345.7 234.2L340.0 234.7L342.7 229.6M379.8 223.4L366.3 234.2M371.9 233.2L366.3 234.2L368.6 228.9M357.0 249.5L342.5 260.8M348.1 259.9L342.5 260.8L344.8 255.6M379.8 249.5L370.3 265.0M375.3 262.1L370.3 265.0L370.6 259.3M402.5 223.4L393.3 235.0M398.6 232.8L393.3 235.0L394.3 229.4M425.2 223.4L422.5 238.3M426.1 233.9L422.5 238.3L420.7 232.9M447.9 223.4L449.7 241.7M451.9 236.4L449.7 241.7L446.5 236.9M402.5 249.5L395.3 263.0M400.1 259.8L395.3 263.0L395.3 257.3M425.2 249.5L420.8 265.0M424.8 260.9L420.8 265.0L419.6 259.4M447.9 249.5L449.2 268.3M451.6 263.2L449.2 268.3L446.1 263.5M538.8 249.5L535.8 268.3M539.3 263.8L535.8 268.3L533.9 263.0M516.1 275.5L518.8 294.2M520.8 288.8L518.8 294.2L515.4 289.6M447.9 327.6L449.7 344.7M451.9 339.4L449.7 344.7L446.5 340.0M470.6 327.6L476.7 344.2M477.5 338.5L476.7 344.2L472.4 340.4M493.4 327.6L498.3 344.7M499.5 339.1L498.3 344.7L494.3 340.6M675.1 249.5L657.5 254.7M663.1 255.9L657.5 254.7L661.5 250.6M697.8 249.5L683.8 260.3M689.5 259.4L683.8 260.3L686.1 255.1M697.8 275.5L687.2 287.0M692.6 285.2L687.2 287.0L688.6 281.5M675.1 301.5L659.7 311.3M665.4 310.9L659.7 311.3L662.4 306.4M697.8 301.5L690.8 318.0M695.3 314.5L690.8 318.0L690.3 312.3M675.1 327.6L667.5 342.5M672.2 339.3L667.5 342.5L667.4 336.8M879.6 223.4L859.7 223.0M864.6 225.8L859.7 223.0L864.7 220.4M902.3 223.4L885.8 222.5M890.7 225.5L885.8 222.5L891.0 220.1M902.3 249.5L886.2 249.5M891.2 252.2L886.2 249.5L891.2 246.8M902.3 275.5L886.3 276.2M891.4 278.7L886.3 276.2L891.2 273.2M902.3 301.5L884.5 305.3M890.0 307.0L884.5 305.3L888.8 301.6M879.6 327.6L860.0 332.5M865.5 333.9L860.0 332.5L864.2 328.6M902.3 327.6L885.3 333.7M891.0 334.5L885.3 333.7L889.1 329.4M311.6 405.7L295.3 415.0M301.0 414.9L295.3 415.0L298.3 410.1M470.6 353.6L475.8 370.3M476.9 364.7L475.8 370.3L471.8 366.4M493.4 353.6L500.8 369.7M501.2 364.0L500.8 369.7L496.3 366.3M584.2 353.6L585.3 369.2M587.7 364.0L585.3 369.2L582.3 364.4M425.2 457.7L418.7 474.7M423.0 471.0L418.7 474.7L417.9 469.0M538.8 457.7L541.3 474.2M543.3 468.8L541.3 474.2L537.9 469.6M766.0 353.6L754.7 369.7M759.8 367.1L754.7 369.7L755.3 364.0M788.7 353.6L782.8 367.5M787.3 363.9L782.8 367.5L782.3 361.8M675.1 431.7L683.8 419.7M678.7 422.1L683.8 419.7L683.1 425.3M697.8 431.7L707.8 420.5M702.5 422.4L707.8 420.5L706.5 426.0M720.6 431.7L726.2 417.5M721.8 421.2L726.2 417.5L726.9 423.2M607.0 457.7L625.3 459.7M620.6 456.4L625.3 459.7L620.1 461.8M629.7 457.7L642.8 450.0M637.1 450.2L642.8 450.0L639.9 454.9M902.3 353.6L885.3 356.3M890.7 358.2L885.3 356.3L889.8 352.9M856.9 379.6L838.3 373.7M842.3 377.8L838.3 373.7L843.9 372.6M879.6 379.6L860.3 374.5M864.5 378.4L860.3 374.5L865.9 373.2M902.3 379.6L886.2 385.3M891.8 386.2L886.2 385.3L890.0 381.1M993.2 379.6L983.8 392.5M989.0 390.1L983.8 392.5L984.6 386.8M856.9 405.7L841.7 406.3M846.8 408.8L841.7 406.3L846.6 403.4M902.3 405.7L888.8 418.0M894.4 416.6L888.8 418.0L890.7 412.6M925.0 405.7L914.2 418.3M919.5 416.3L914.2 418.3L915.4 412.8M947.8 405.7L939.2 418.3M944.2 415.7L939.2 418.3L939.7 412.7M925.0 431.7L914.2 447.2M919.3 444.6L914.2 447.2L914.8 441.5M947.8 431.7L937.5 445.8M942.6 443.4L937.5 445.8L938.2 440.2M834.2 457.7L820.3 470.8M825.8 469.4L820.3 470.8L822.1 465.4M925.0 457.7L914.2 474.2M919.2 471.5L914.2 474.2L914.7 468.5M947.8 457.7L942.5 474.7M946.6 470.7L942.5 474.7L941.4 469.1M970.5 457.7L966.7 475.3M970.4 471.0L966.7 475.3L965.1 469.9M993.2 457.7L987.5 474.2M991.7 470.3L987.5 474.2L986.6 468.5M220.7 509.8L213.0 524.2M217.8 521.0L213.0 524.2L213.0 518.5M220.7 535.8L208.3 549.7M213.7 547.7L208.3 549.7L209.6 544.1M243.4 535.8L234.7 549.7M239.6 546.9L234.7 549.7L235.0 544.0M334.3 561.8L331.7 575.8M335.3 571.4L331.7 575.8L329.9 570.4M311.6 587.9L304.5 602.8M309.1 599.5L304.5 602.8L304.2 597.1M334.3 587.9L329.2 602.8M333.4 599.0L329.2 602.8L328.2 597.2M538.8 483.8L539.2 498.3M541.8 493.3L539.2 498.3L536.3 493.4M561.5 483.8L570.8 496.3M570.0 490.7L570.8 496.3L565.7 493.9M584.2 483.8L597.5 495.8M595.6 490.4L597.5 495.8L592.0 494.5M538.8 509.8L534.7 524.5M538.6 520.4L534.7 524.5L533.4 518.9M561.5 509.8L570.3 523.0M569.8 517.3L570.3 523.0L565.3 520.3M584.2 509.8L595.3 523.0M594.2 517.4L595.3 523.0L590.0 520.9M584.2 535.8L590.0 549.2M590.5 543.5L590.0 549.2L585.5 545.6M447.9 587.9L449.5 604.2M451.7 598.9L449.5 604.2L446.3 599.4M561.5 587.9L570.3 575.0M565.3 577.6L570.3 575.0L569.7 580.7M584.2 587.9L598.3 577.5M592.7 578.3L598.3 577.5L595.9 582.7M629.7 483.8L647.0 483.3M641.9 480.7L647.0 483.3L642.1 486.2M629.7 509.8L646.7 514.7M642.6 510.7L646.7 514.7L641.1 515.9M607.0 535.8L619.2 548.3M617.6 542.8L619.2 548.3L613.7 546.6M697.8 535.8L714.2 535.8M709.2 533.1L714.2 535.8L709.2 538.5M720.6 535.8L737.5 540.8M733.5 536.8L737.5 540.8L731.9 542.0M743.3 535.8L757.5 543.3M754.3 538.6L757.5 543.3L751.8 543.4M675.1 561.8L690.8 562.5M685.9 559.6L690.8 562.5L685.7 565.0M629.7 587.9L648.0 583.3M642.5 581.9L648.0 583.3L643.8 587.2M834.2 483.8L818.8 490.0M824.5 490.6L818.8 490.0L822.4 485.6M993.2 483.8L987.0 501.3M991.2 497.5L987.0 501.3L986.1 495.7M811.4 509.8L793.3 508.0M798.1 511.2L793.3 508.0L798.6 505.8M970.5 535.8L957.5 549.2M962.9 547.5L957.5 549.2L959.0 543.7M925.0 587.9L925.8 606.3M928.3 601.2L925.8 606.3L922.9 601.4M947.8 587.9L959.7 599.2M957.9 593.7L959.7 599.2L954.2 597.7M970.5 587.9L987.5 580.3M981.8 579.9L987.5 580.3L984.0 584.8M993.2 587.9L1010.0 586.7M1004.8 584.3L1010.0 586.7L1005.2 589.7M288.9 613.9L280.8 626.7M285.8 623.9L280.8 626.7L281.2 621.0M311.6 613.9L304.5 628.0M309.2 624.7L304.5 628.0L304.3 622.3M334.3 613.9L327.5 628.3M332.1 625.0L327.5 628.3L327.2 622.6M357.0 613.9L351.3 628.0M355.7 624.4L351.3 628.0L350.7 622.3M288.9 639.9L280.8 653.3M285.7 650.4L280.8 653.3L281.1 647.6M311.6 639.9L303.8 653.3M308.7 650.4L303.8 653.3L304.0 647.6M288.9 666.0L282.5 680.0M287.0 676.6L282.5 680.0L282.1 674.3M198.0 692.0L211.3 700.0M208.4 695.1L211.3 700.0L205.6 699.8M425.2 613.9L429.7 627.5M430.7 621.9L429.7 627.5L425.5 623.6M447.9 613.9L453.7 628.0M454.3 622.3L453.7 628.0L449.3 624.4M538.8 613.9L557.5 609.2M552.0 607.8L557.5 609.2L553.3 613.0M561.5 613.9L577.2 606.7M571.5 606.3L577.2 606.7L573.8 611.2M584.2 613.9L599.2 609.2M593.6 608.1L599.2 609.2L595.2 613.3M493.4 639.9L504.7 652.2M503.3 646.6L504.7 652.2L499.3 650.3M516.1 639.9L532.8 645.5M528.9 641.3L532.8 645.5L527.2 646.5M538.8 639.9L555.8 639.7M550.8 637.0L555.8 639.7L550.9 642.5M584.2 639.9L596.3 630.8M590.7 631.7L596.3 630.8L594.0 636.0M516.1 666.0L532.2 673.3M528.7 668.8L532.2 673.3L526.5 673.7M538.8 666.0L554.5 671.7M550.7 667.4L554.5 671.7L548.9 672.5M607.0 613.9L621.7 610.8M616.2 609.2L621.7 610.8L617.3 614.5M629.7 613.9L646.7 612.0M641.4 609.9L646.7 612.0L642.0 615.3M607.0 639.9L621.3 631.2M615.6 631.5L621.3 631.2L618.5 636.1M743.3 639.9L723.7 640.3M728.7 642.9L723.7 640.3L728.6 637.5M697.8 666.0L697.8 650.5M695.1 655.5L697.8 650.5L700.6 655.5M720.6 666.0L720.5 648.7M717.8 653.7L720.5 648.7L723.2 653.7M743.3 666.0L748.8 652.5M744.4 656.1L748.8 652.5L749.4 658.2M675.1 692.0L683.7 678.3M678.7 681.1L683.7 678.3L683.3 684.0M697.8 692.0L704.7 678.3M700.0 681.6L704.7 678.3L704.9 684.0M720.6 692.0L725.3 676.7M721.2 680.6L725.3 676.7L726.4 682.3M697.8 718.0L708.0 706.3M702.7 708.3L708.0 706.3L706.8 711.9M879.6 639.9L867.0 653.7M872.4 651.8L867.0 653.7L868.4 648.1M902.3 639.9L883.3 640.8M888.5 643.3L883.3 640.8L888.2 637.9M856.9 666.0L838.3 668.3M843.6 670.4L838.3 668.3L843.0 665.0M220.7 744.0L232.5 755.0M230.7 749.6L232.5 755.0L227.0 753.6M243.4 744.0L253.7 756.3M252.6 750.7L253.7 756.3L248.4 754.2M266.2 744.0L275.3 756.7M274.6 751.0L275.3 756.7L270.2 754.2M288.9 744.0L296.7 756.3M296.3 750.6L296.7 756.3L291.7 753.6M198.0 770.1L204.2 784.2M204.6 778.5L204.2 784.2L199.7 780.7M220.7 770.1L231.7 783.3M230.6 777.7L231.7 783.3L226.4 781.2M243.4 770.1L253.7 783.3M252.8 777.7L253.7 783.3L248.5 781.0M266.2 770.1L275.3 784.2M274.9 778.5L275.3 784.2L270.3 781.5M288.9 770.1L296.7 783.3M296.5 777.6L296.7 783.3L291.8 780.4M198.0 796.1L206.3 809.7M206.0 804.0L206.3 809.7L201.4 806.8M220.7 796.1L229.7 811.2M229.4 805.5L229.7 811.2L224.8 808.2M243.4 796.1L253.0 810.3M252.5 804.7L253.0 810.3L247.9 807.7M266.2 796.1L275.0 810.3M274.7 804.6L275.0 810.3L270.0 807.5M288.9 796.1L296.3 810.0M296.4 804.3L296.3 810.0L291.6 806.9M311.6 796.1L318.0 809.7M318.3 804.0L318.0 809.7L313.4 806.3M334.3 796.1L340.5 809.2M340.8 803.5L340.5 809.2L335.9 805.8M379.8 796.1L385.3 810.5M386.1 804.8L385.3 810.5L381.0 806.8M516.1 770.1L526.3 781.7M525.1 776.1L526.3 781.7L521.0 779.7M402.5 796.1L406.3 810.5M407.7 805.0L406.3 810.5L402.4 806.4M470.6 796.1L476.7 809.7M477.1 804.0L476.7 809.7L472.1 806.2M766.0 744.0L780.5 743.0M775.3 740.6L780.5 743.0L775.7 746.1M743.3 770.1L751.3 753.0M746.7 756.4L751.3 753.0L751.7 758.7M766.0 796.1L758.7 812.8M763.2 809.3L758.7 812.8L758.2 807.2M834.2 744.0L815.3 743.0M820.2 746.0L815.3 743.0L820.5 740.6M856.9 744.0L839.2 746.3M844.5 748.4L839.2 746.3L843.8 743.0"/>
<path stroke="#00c8c8" d="M266.2 67.3L247.5 81.7M253.1 80.8L247.5 81.7L249.8 76.5M288.9 67.3L272.5 83.3M278.0 81.8L272.5 83.3L274.2 77.9M288.9 93.3L265.0 95.0M270.2 97.4L265.0 95.0L269.8 91.9M311.6 93.3L290.0 100.8M295.6 101.8L290.0 100.8L293.8 96.6M334.3 93.3L312.0 100.8M317.6 101.8L312.0 100.8L315.9 96.7M311.6 119.3L291.7 124.2M297.2 125.6L291.7 124.2L295.9 120.3M288.9 145.4L265.3 148.0M270.6 150.1L265.3 148.0L270.0 144.7M311.6 145.4L288.3 148.3M293.6 150.4L288.3 148.3L293.0 145.0M357.0 145.4L336.3 147.8M341.6 149.9L336.3 147.8L341.0 144.5M357.0 197.4L336.7 200.0M342.0 202.1L336.7 200.0L341.3 196.7M538.8 93.3L518.7 101.7M524.3 102.3L518.7 101.7L522.2 97.2M561.5 93.3L539.7 101.2M545.3 102.0L539.7 101.2L543.5 96.9M584.2 93.3L563.3 101.7M569.0 102.3L563.3 101.7L567.0 97.3M516.1 119.3L498.0 129.2M503.7 129.2L498.0 129.2L501.1 124.4M538.8 119.3L519.2 129.5M524.9 129.6L519.2 129.5L522.4 124.8M561.5 119.3L539.7 128.7M545.3 129.2L539.7 128.7L543.2 124.2M516.1 145.4L499.5 157.8M505.1 157.0L499.5 157.8L501.9 152.6M538.8 145.4L518.3 157.8M524.0 157.5L518.3 157.8L521.2 152.9M561.5 145.4L540.5 158.3M546.2 158.0L540.5 158.3L543.3 153.4M516.1 171.4L503.3 187.5M508.6 185.3L503.3 187.5L504.3 181.9M538.8 171.4L521.7 187.5M527.2 186.1L521.7 187.5L523.5 182.1M470.6 197.4L467.5 218.7M470.9 214.1L467.5 218.7L465.5 213.3M493.4 197.4L485.3 215.8M489.8 212.3L485.3 215.8L484.8 210.2M538.8 197.4L524.2 216.3M529.4 214.0L524.2 216.3L525.1 210.7M607.0 93.3L585.0 100.0M590.6 101.1L585.0 100.0L589.0 95.9M629.7 93.3L609.2 100.0M614.8 101.0L609.2 100.0L613.1 95.9M652.4 93.3L632.0 99.2M637.6 100.4L632.0 99.2L636.1 95.2M675.1 93.3L654.2 98.7M659.7 100.1L654.2 98.7L658.3 94.8M697.8 93.3L676.7 97.8M682.1 99.4L676.7 97.8L681.0 94.1M720.6 93.3L699.2 97.5M704.6 99.2L699.2 97.5L703.6 93.9M743.3 93.3L722.5 97.2M727.9 98.9L722.5 97.2L726.9 93.6M766.0 93.3L745.3 96.7M750.7 98.5L745.3 96.7L749.8 93.2M607.0 119.3L585.0 127.5M590.6 128.3L585.0 127.5L588.7 123.2M629.7 119.3L607.8 126.7M613.4 127.7L607.8 126.7L611.7 122.5M652.4 119.3L630.0 126.3M635.6 127.4L630.0 126.3L634.0 122.2M675.1 119.3L652.8 125.8M658.4 127.0L652.8 125.8L656.9 121.8M697.8 119.3L675.3 125.0M680.9 126.4L675.3 125.0L679.5 121.1M720.6 119.3L698.3 124.5M703.8 126.0L698.3 124.5L702.6 120.7M743.3 119.3L721.3 123.8M726.8 125.5L721.3 123.8L725.7 120.2M766.0 119.3L745.0 123.3M750.4 125.1L745.0 123.3L749.4 119.7M607.0 145.4L585.0 156.7M590.7 156.8L585.0 156.7L588.2 152.0M629.7 145.4L607.2 154.7M612.8 155.3L607.2 154.7L610.8 150.2M697.8 145.4L673.8 153.0M679.4 154.1L673.8 153.0L677.8 148.9M720.6 145.4L697.0 151.7M702.5 153.0L697.0 151.7L701.1 147.7M743.3 145.4L720.3 150.3M725.8 151.9L720.3 150.3L724.7 146.6M766.0 145.4L744.2 149.2M749.6 151.0L744.2 149.2L748.6 145.6M788.7 145.4L768.0 147.8M773.3 149.9L768.0 147.8L772.7 144.5M652.4 171.4L629.5 181.2M635.2 181.7L629.5 181.2L633.0 176.7M675.1 171.4L652.5 180.3M658.2 181.0L652.5 180.3L656.2 176.0M743.3 171.4L719.2 178.0M724.7 179.3L719.2 178.0L723.3 174.1M766.0 171.4L742.5 176.7M748.0 178.2L742.5 176.7L746.8 172.9M788.7 171.4L766.2 175.3M771.6 177.1L766.2 175.3L770.6 171.8M675.1 197.4L653.3 205.0M659.0 205.9L653.3 205.0L657.2 200.8M697.8 197.4L675.8 205.0M681.5 205.9L675.8 205.0L679.7 200.8M766.0 197.4L742.2 204.7M747.8 205.8L742.2 204.7L746.2 200.6M788.7 197.4L765.3 203.7M770.9 205.0L765.3 203.7L769.5 199.7M811.4 171.4L790.0 174.5M795.3 176.5L790.0 174.5L794.6 171.1M834.2 171.4L813.3 173.0M818.5 175.3L813.3 173.0L818.1 169.9M811.4 197.4L788.3 202.5M793.8 204.1L788.3 202.5L792.6 198.8M834.2 197.4L811.3 199.7M816.6 201.9L811.3 199.7L816.1 196.5M856.9 197.4L835.5 198.0M840.6 200.6L835.5 198.0L840.4 195.1M311.6 223.4L290.8 223.0M295.8 225.8L290.8 223.0L295.9 220.4M334.3 223.4L310.8 228.3M316.3 230.0L310.8 228.3L315.2 224.7M334.3 249.5L315.0 257.5M320.7 258.1L315.0 257.5L318.6 253.1M334.3 275.5L320.8 293.7M326.0 291.3L320.8 293.7L321.6 288.0M357.0 275.5L350.5 296.3M354.6 292.4L350.5 296.3L349.4 290.7M379.8 275.5L365.0 290.8M370.4 289.1L365.0 290.8L366.5 285.3M266.2 301.5L244.2 304.7M249.5 306.7L244.2 304.7L248.7 301.3M470.6 223.4L471.3 244.7M473.9 239.6L471.3 244.7L468.5 239.7M493.4 223.4L487.0 246.3M491.0 242.2L487.0 246.3L485.7 240.8M538.8 223.4L527.5 245.0M532.2 241.8L527.5 245.0L527.4 239.3M561.5 223.4L548.3 241.7M553.5 239.2L548.3 241.7L549.1 236.0M470.6 249.5L473.3 271.3M475.4 266.0L473.3 271.3L470.0 266.7M584.2 249.5L577.5 272.2M581.5 268.1L577.5 272.2L576.3 266.6M402.5 275.5L394.7 293.3M399.2 289.8L394.7 293.3L394.2 287.7M425.2 275.5L422.5 295.3M425.9 290.7L422.5 295.3L420.5 290.0M493.4 275.5L497.5 299.2M499.3 293.8L497.5 299.2L494.0 294.7M538.8 275.5L545.8 295.3M546.7 289.7L545.8 295.3L541.6 291.5M425.2 301.5L424.7 323.3M427.5 318.4L424.7 323.3L422.1 318.3M470.6 301.5L473.3 322.5M475.4 317.2L473.3 322.5L470.0 317.9M493.4 301.5L497.0 323.3M498.9 317.9L497.0 323.3L493.5 318.8M516.1 301.5L521.7 322.5M523.0 317.0L521.7 322.5L517.7 318.4M425.2 327.6L420.3 347.0M424.2 342.8L420.3 347.0L418.9 341.5M516.1 327.6L525.3 345.0M525.4 339.3L525.3 345.0L520.6 341.9M538.8 327.6L552.2 347.0M551.6 341.3L552.2 347.0L547.1 344.4M561.5 327.6L563.8 349.2M566.0 343.9L563.8 349.2L560.6 344.5M652.4 223.4L632.2 232.8M637.9 233.2L632.2 232.8L635.6 228.3M675.1 223.4L653.7 231.7M659.3 232.4L653.7 231.7L657.4 227.3M697.8 223.4L678.0 231.7M683.7 232.3L678.0 231.7L681.6 227.2M720.6 223.4L698.7 233.3M704.4 233.8L698.7 233.3L702.1 228.8M720.6 249.5L701.7 263.0M707.3 262.3L701.7 263.0L704.2 257.9M652.4 275.5L629.5 278.7M634.8 280.7L629.5 278.7L634.1 275.3M675.1 275.5L656.7 283.8M662.4 284.3L656.7 283.8L660.1 279.3M720.6 275.5L707.5 292.0M712.7 289.8L707.5 292.0L708.5 286.4M743.3 275.5L725.0 290.3M730.6 289.3L725.0 290.3L727.2 285.1M652.4 301.5L630.8 300.8M635.8 303.7L630.8 300.8L635.9 298.3M720.6 301.5L708.7 320.0M713.7 317.3L708.7 320.0L709.1 314.3M766.0 301.5L757.5 323.7M761.8 320.0L757.5 323.7L756.8 318.0M788.7 301.5L774.2 316.2M779.6 314.5L774.2 316.2L775.8 310.7M652.4 327.6L632.5 340.0M638.2 339.7L632.5 340.0L635.3 335.0M697.8 327.6L693.3 349.7M697.0 345.3L693.3 349.7L691.7 344.2M766.0 327.6L759.2 346.7M763.4 342.9L759.2 346.7L758.3 341.0M856.9 223.4L833.3 224.2M838.4 226.7L833.3 224.2L838.3 221.3M879.6 249.5L857.5 249.2M862.5 252.0L857.5 249.2L862.5 246.5M856.9 275.5L832.8 276.7M838.0 279.1L832.8 276.7L837.7 273.7M879.6 275.5L857.5 276.3M862.6 278.9L857.5 276.3L862.4 273.4M811.4 301.5L787.5 306.7M793.0 308.3L787.5 306.7L791.8 303.0M856.9 301.5L832.0 301.3M837.0 304.1L832.0 301.3L837.0 298.7M879.6 301.5L858.3 304.7M863.7 306.6L858.3 304.7L862.9 301.2M811.4 327.6L789.2 332.5M794.6 334.1L789.2 332.5L793.5 328.8M856.9 327.6L832.0 326.7M836.9 329.6L832.0 326.7L837.1 324.1M425.2 353.6L422.2 376.7M425.5 372.1L422.2 376.7L420.1 371.3M447.9 353.6L449.5 374.5M451.8 369.3L449.5 374.5L446.4 369.7M516.1 353.6L526.2 371.3M526.1 365.6L526.2 371.3L521.3 368.3M538.8 353.6L551.7 368.7M550.5 363.1L551.7 368.7L546.3 366.6M561.5 353.6L573.3 369.2M572.5 363.5L573.3 369.2L568.1 366.8M447.9 379.6L446.3 402.0M449.4 397.2L446.3 402.0L444.0 396.8M470.6 379.6L475.0 400.8M476.7 395.4L475.0 400.8L471.3 396.5M493.4 379.6L503.7 400.8M503.9 395.1L503.7 400.8L499.0 397.5M516.1 379.6L525.0 398.3M525.3 392.6L525.0 398.3L520.4 395.0M561.5 379.6L574.7 395.8M573.6 390.2L574.7 395.8L569.4 393.7M561.5 405.7L573.3 422.0M572.6 416.3L573.3 422.0L568.2 419.5M584.2 405.7L595.8 421.2M595.0 415.5L595.8 421.2L590.7 418.8M538.8 431.7L544.7 449.2M545.7 443.6L544.7 449.2L540.5 445.3M561.5 431.7L571.3 449.2M571.3 443.5L571.3 449.2L566.5 446.1M516.1 457.7L513.3 477.5M516.7 472.9L513.3 477.5L511.3 472.2M561.5 457.7L570.8 474.7M570.8 469.0L570.8 474.7L566.0 471.6M584.2 457.7L598.7 470.8M596.8 465.5L598.7 470.8L593.1 469.5M697.8 353.6L697.2 377.0M700.0 372.1L697.2 377.0L694.6 371.9M607.0 405.7L585.3 408.0M590.6 410.2L585.3 408.0L590.0 404.8M811.4 353.6L791.3 357.5M796.8 359.2L791.3 357.5L795.7 353.9M856.9 353.6L834.5 364.2M840.2 364.5L834.5 364.2L837.9 359.6M879.6 353.6L857.5 358.0M862.9 359.7L857.5 358.0L861.9 354.4M879.6 431.7L866.7 448.3M871.9 446.0L866.7 448.3L867.6 442.7M902.3 431.7L887.0 445.3M892.5 444.0L887.0 445.3L888.9 440.0M902.3 457.7L882.8 470.5M888.5 470.0L882.8 470.5L885.5 465.5M402.5 483.8L395.0 504.2M399.3 500.4L395.0 504.2L394.2 498.5M470.6 483.8L465.3 503.0M469.3 498.9L465.3 503.0L464.0 497.4M516.1 483.8L510.8 503.3M514.8 499.2L510.8 503.3L509.5 497.8M470.6 509.8L462.0 531.7M466.4 528.0L462.0 531.7L461.3 526.0M516.1 509.8L508.3 529.2M512.7 525.5L508.3 529.2L507.7 523.5M493.4 561.8L488.3 583.7M492.1 579.4L488.3 583.7L486.8 578.2M493.4 587.9L501.2 607.5M501.8 601.8L501.2 607.5L496.8 603.9M607.0 483.8L625.8 490.3M622.0 486.1L625.8 490.3L620.2 491.3M607.0 509.8L624.7 521.3M622.0 516.3L624.7 521.3L619.0 520.9M720.6 561.8L699.7 558.3M704.2 561.8L699.7 558.3L705.1 556.5M607.0 587.9L628.7 580.0M623.0 579.2L628.7 580.0L624.9 584.3M675.1 587.9L653.7 581.3M657.7 585.4L653.7 581.3L659.3 580.2M925.0 483.8L915.0 505.0M919.6 501.6L915.0 505.0L914.7 499.3M947.8 483.8L943.0 503.0M946.8 498.8L943.0 503.0L941.6 497.5M970.5 483.8L969.7 505.3M972.6 500.4L969.7 505.3L967.1 500.2M970.5 509.8L971.3 530.0M973.8 524.9L971.3 530.0L968.4 525.1M993.2 509.8L990.0 529.2M993.5 524.7L990.0 529.2L988.1 523.8M993.2 535.8L976.3 548.0M982.0 547.3L976.3 548.0L978.8 542.9M856.9 561.8L835.5 570.0M841.1 570.8L835.5 570.0L839.2 565.7M925.0 561.8L918.7 583.3M922.7 579.3L918.7 583.3L917.5 577.8M856.9 587.9L833.8 596.3M839.5 597.2L833.8 596.3L837.6 592.1M879.6 587.9L859.2 600.3M864.9 600.0L859.2 600.3L862.0 595.4M902.3 587.9L888.7 607.0M893.8 604.5L888.7 607.0L889.4 601.3M470.6 613.9L478.7 633.3M479.3 627.7L478.7 633.3L474.2 629.7M493.4 613.9L508.3 631.3M507.1 625.8L508.3 631.3L503.0 629.3M516.1 613.9L534.7 620.0M530.8 615.9L534.7 620.0L529.1 621.0M720.6 613.9L698.0 617.5M703.4 619.4L698.0 617.5L702.5 614.0M766.0 613.9L742.0 615.8M747.2 618.1L742.0 615.8L746.8 612.7M811.4 613.9L788.7 614.5M793.7 617.1L788.7 614.5L793.6 611.6M834.2 613.9L813.3 618.3M818.8 620.0L813.3 618.3L817.7 614.6M856.9 613.9L838.0 623.0M843.7 623.3L838.0 623.0L841.3 618.4M879.6 613.9L862.5 630.0M868.0 628.5L862.5 630.0L864.3 624.6M947.8 613.9L931.7 597.5M933.2 603.0L931.7 597.5L937.1 599.2M811.4 639.9L789.2 639.7M794.1 642.4L789.2 639.7L794.2 637.0M811.4 666.0L786.7 664.7M791.5 667.6L786.7 664.7L791.8 662.2M834.2 692.0L816.7 708.3M822.2 706.9L816.7 708.3L818.5 702.9M811.4 718.0L790.5 730.0M796.2 729.9L790.5 730.0L793.5 725.2M811.4 770.1L789.7 773.7M795.1 775.5L789.7 773.7L794.2 770.2M856.9 770.1L835.3 774.7M840.8 776.3L835.3 774.7L839.7 771.0M834.2 796.1L816.2 810.5M821.8 809.5L816.2 810.5L818.4 805.2M856.9 796.1L833.3 804.2M839.0 805.1L833.3 804.2L837.2 800.0"/>
<path stroke="#00d28c" d="M243.4 93.3L216.7 96.7M222.0 98.7L216.7 96.7L221.3 93.3M266.2 93.3L240.0 95.8M245.2 98.1L240.0 95.8L244.7 92.6M288.9 119.3L263.3 124.2M268.8 125.9L263.3 124.2L267.7 120.6M357.0 119.3L331.7 124.2M337.1 125.9L331.7 124.2L336.1 120.6M334.3 145.4L309.2 148.0M314.4 150.2L309.2 148.0L313.9 144.8M584.2 119.3L560.0 128.3M565.6 129.1L560.0 128.3L563.7 124.0M584.2 145.4L560.8 156.7M566.5 156.9L560.8 156.7L564.2 152.0M561.5 171.4L540.8 186.7M546.5 185.9L540.8 186.7L543.2 181.5M584.2 171.4L562.5 187.0M568.2 186.3L562.5 187.0L565.0 181.9M561.5 197.4L545.0 218.0M550.3 215.8L545.0 218.0L546.0 212.4M652.4 145.4L629.2 154.5M634.8 155.2L629.2 154.5L632.8 150.1M675.1 145.4L651.3 154.2M657.0 155.0L651.3 154.2L655.1 149.9M607.0 171.4L584.2 185.3M589.9 185.0L584.2 185.3L587.0 180.4M629.7 171.4L606.3 183.7M612.0 183.7L606.3 183.7L609.5 178.9M697.8 171.4L674.2 180.0M679.8 180.8L674.2 180.0L677.9 175.7M720.6 171.4L695.8 179.7M701.4 180.7L695.8 179.7L699.7 175.5M629.7 197.4L604.2 209.7M609.9 210.0L604.2 209.7L607.5 205.0M652.4 197.4L628.3 207.2M634.0 207.8L628.3 207.2L632.0 202.8M720.6 197.4L696.3 207.0M702.0 207.7L696.3 207.0L700.0 202.6M743.3 197.4L719.2 206.7M724.8 207.4L719.2 206.7L722.9 202.3M288.9 223.4L261.7 230.3M267.2 231.7L261.7 230.3L265.9 226.5M311.6 249.5L287.0 258.8M292.6 259.6L287.0 258.8L290.7 254.5M516.1 223.4L502.5 247.0M507.4 244.0L502.5 247.0L502.6 241.3M584.2 223.4L565.3 245.3M570.7 243.3L565.3 245.3L566.6 239.8M516.1 249.5L515.3 274.2M518.2 269.2L515.3 274.2L512.8 269.1M561.5 249.5L555.8 273.0M559.7 268.8L555.8 273.0L554.4 267.5M447.9 275.5L452.5 300.8M454.3 295.4L452.5 300.8L448.9 296.4M470.6 275.5L475.8 302.0M477.5 296.6L475.8 302.0L472.2 297.6M561.5 275.5L560.0 300.0M563.0 295.2L560.0 300.0L557.6 294.8M402.5 301.5L391.7 323.3M396.3 320.1L391.7 323.3L391.5 317.6M447.9 301.5L453.7 326.2M455.2 320.7L453.7 326.2L449.9 321.9M538.8 301.5L549.2 326.2M549.7 320.5L549.2 326.2L544.7 322.6M561.5 301.5L559.2 328.7M562.3 323.9L559.2 328.7L556.9 323.4M584.2 301.5L586.3 329.7M588.7 324.5L586.3 329.7L583.2 324.9M402.5 327.6L385.3 347.0M390.7 345.0L385.3 347.0L386.6 341.4M584.2 327.6L590.5 352.5M591.9 347.0L590.5 352.5L586.6 348.3M607.0 223.4L586.3 241.2M591.9 240.0L586.3 241.2L588.4 235.8M629.7 223.4L606.7 234.7M612.4 234.9L606.7 234.7L610.0 230.0M743.3 223.4L719.7 234.7M725.4 235.0L719.7 234.7L723.0 230.1M766.0 223.4L742.0 234.2M747.7 234.6L742.0 234.2L745.5 229.6M788.7 223.4L764.2 233.3M769.8 234.0L764.2 233.3L767.8 228.9M607.0 249.5L586.7 269.7M592.1 268.1L586.7 269.7L588.3 264.2M652.4 249.5L627.5 255.8M633.0 257.2L627.5 255.8L631.7 252.0M743.3 249.5L721.7 263.7M727.3 263.2L721.7 263.7L724.4 258.6M766.0 249.5L743.7 263.7M749.4 263.3L743.7 263.7L746.4 258.7M788.7 249.5L763.3 262.5M769.0 262.6L763.3 262.5L766.5 257.8M766.0 275.5L750.5 294.2M755.8 292.1L750.5 294.2L751.6 288.6M788.7 275.5L771.7 295.0M777.0 293.0L771.7 295.0L772.9 289.4M743.3 301.5L721.2 315.0M726.9 314.7L721.2 315.0L724.0 310.1M720.6 327.6L698.3 344.2M704.0 343.3L698.3 344.2L700.7 339.0M743.3 327.6L720.3 339.2M726.0 339.3L720.3 339.2L723.6 334.5M811.4 223.4L786.3 230.8M791.9 232.0L786.3 230.8L790.4 226.8M834.2 223.4L809.2 226.7M814.5 228.7L809.2 226.7L813.8 223.3M811.4 249.5L783.3 258.3M788.9 259.4L783.3 258.3L787.3 254.2M834.2 249.5L805.3 253.7M810.7 255.6L805.3 253.7L809.9 250.3M856.9 249.5L830.8 250.3M835.9 252.9L830.8 250.3L835.8 247.5M811.4 275.5L788.0 284.7M793.7 285.4L788.0 284.7L791.7 280.3M834.2 275.5L807.0 279.2M812.3 281.2L807.0 279.2L811.6 275.8M834.2 301.5L807.0 302.5M812.1 305.0L807.0 302.5L811.9 299.6M834.2 327.6L806.3 327.5M811.3 330.2L806.3 327.5L811.3 324.8M379.8 431.7L369.2 454.2M373.8 450.8L369.2 454.2L368.8 448.5M402.5 353.6L389.5 377.5M394.3 374.4L389.5 377.5L389.5 371.8M538.8 379.6L553.7 399.2M552.8 393.5L553.7 399.2L548.5 396.8M470.6 405.7L472.0 432.5M474.5 427.4L472.0 432.5L469.0 427.6M493.4 405.7L502.5 432.0M503.4 426.4L502.5 432.0L498.3 428.2M516.1 405.7L525.8 431.3M526.6 425.7L525.8 431.3L521.5 427.6M538.8 405.7L550.8 427.8M550.8 422.1L550.8 427.8L546.1 424.7M516.1 431.7L519.7 456.7M521.6 451.3L519.7 456.7L516.3 452.1M584.2 431.7L599.2 450.8M598.2 445.2L599.2 450.8L593.9 448.6M402.5 457.7L392.5 484.2M396.8 480.4L392.5 484.2L391.7 478.5M493.4 457.7L488.7 482.5M492.3 478.1L488.7 482.5L486.9 477.1M652.4 353.6L635.8 375.8M641.0 373.4L635.8 375.8L636.6 370.2M675.1 353.6L670.8 378.7M674.4 374.2L670.8 378.7L669.0 373.3M743.3 353.6L718.0 361.3M723.6 362.5L718.0 361.3L722.0 357.3M675.1 379.6L672.8 407.5M676.0 402.7L672.8 407.5L670.5 402.3M697.8 379.6L693.7 404.2M697.2 399.7L693.7 404.2L691.8 398.8M766.0 379.6L750.5 402.0M755.6 399.4L750.5 402.0L751.1 396.3M788.7 379.6L775.3 400.3M780.3 397.6L775.3 400.3L775.8 394.7M629.7 405.7L607.0 423.3M612.6 422.4L607.0 423.3L609.3 418.1M675.1 405.7L666.2 428.3M670.5 424.7L666.2 428.3L665.5 422.7M834.2 353.6L802.5 356.3M807.7 358.6L802.5 356.3L807.3 353.2M811.4 379.6L785.8 390.8M791.5 391.3L785.8 390.8L789.3 386.3M811.4 405.7L782.5 413.0M788.0 414.4L782.5 413.0L786.7 409.1M856.9 431.7L839.2 450.8M844.6 449.0L839.2 450.8L840.6 445.3M879.6 457.7L853.0 470.3M858.7 470.6L853.0 470.3L856.4 465.7M493.4 483.8L480.8 505.3M485.7 502.4L480.8 505.3L481.0 499.6M493.4 509.8L483.7 532.5M488.1 529.0L483.7 532.5L483.1 526.8M470.6 535.8L463.8 562.5M467.7 558.3L463.8 562.5L462.4 557.0M516.1 535.8L505.3 557.5M510.0 554.2L505.3 557.5L505.1 551.8M470.6 561.8L468.3 587.5M471.5 582.8L468.3 587.5L466.1 582.3M470.6 587.9L475.3 612.5M477.1 607.1L475.3 612.5L471.7 608.1M788.7 535.8L761.7 533.0M766.4 536.2L761.7 533.0L766.9 530.8M788.7 561.8L760.0 559.2M764.7 562.3L760.0 559.2L765.2 556.9M697.8 587.9L672.5 579.2M676.4 583.4L672.5 579.2L678.1 578.2M720.6 587.9L692.5 580.5M696.7 584.4L692.5 580.5L698.0 579.1M743.3 587.9L713.7 584.2M718.3 587.5L713.7 584.2L719.0 582.1M766.0 587.9L738.3 585.8M743.1 588.9L738.3 585.8L743.5 583.5M788.7 587.9L760.3 590.0M765.5 592.3L760.3 590.0L765.1 586.9M902.3 483.8L885.8 507.0M890.9 504.5L885.8 507.0L886.5 501.3M834.2 509.8L807.5 519.7M813.1 520.5L807.5 519.7L811.3 515.4M947.8 509.8L941.3 534.2M945.2 530.0L941.3 534.2L940.0 528.6M811.4 535.8L784.2 535.5M789.1 538.3L784.2 535.5L789.2 532.8M834.2 535.8L809.7 542.5M815.2 543.8L809.7 542.5L813.8 538.6M856.9 535.8L831.7 548.0M837.4 548.3L831.7 548.0L835.0 543.4M879.6 535.8L855.5 552.5M861.2 551.9L855.5 552.5L858.1 547.4M902.3 535.8L884.2 557.0M889.5 555.0L884.2 557.0L885.4 551.4M947.8 535.8L940.8 560.0M944.8 555.9L940.8 560.0L939.6 554.4M811.4 561.8L785.0 561.7M790.0 564.4L785.0 561.7L790.0 559.0M834.2 561.8L809.2 565.8M814.5 567.7L809.2 565.8L813.7 562.4M879.6 561.8L858.3 577.5M864.0 576.7L858.3 577.5L860.8 572.3M902.3 561.8L886.2 583.3M891.4 581.0L886.2 583.3L887.0 577.7M947.8 561.8L936.7 585.3M941.3 582.0L936.7 585.3L936.3 579.6M970.5 561.8L947.5 576.7M953.2 576.2L947.5 576.7L950.2 571.7M993.2 561.8L974.2 578.3M979.7 577.1L974.2 578.3L976.2 573.0M811.4 587.9L784.7 592.5M790.1 594.3L784.7 592.5L789.1 589.0M834.2 587.9L808.3 595.0M813.9 596.3L808.3 595.0L812.4 591.0M675.1 613.9L649.5 615.5M654.7 617.9L649.5 615.5L654.3 612.5M697.8 613.9L672.0 616.3M677.2 618.6L672.0 616.3L676.7 613.2M743.3 613.9L715.3 619.7M720.8 621.3L715.3 619.7L719.7 616.0M788.7 613.9L762.0 615.8M767.2 618.2L762.0 615.8L766.8 612.8M766.0 639.9L740.5 649.2M746.1 650.0L740.5 649.2L744.3 644.9M788.7 639.9L760.8 645.0M766.2 646.8L760.8 645.0L765.3 641.4M902.3 613.9L890.0 637.5M894.7 634.3L890.0 637.5L889.9 631.8M856.9 692.0L830.5 698.0M836.0 699.5L830.5 698.0L834.8 694.2M834.2 718.0L810.3 730.0M816.0 730.2L810.3 730.0L813.6 725.3M947.8 718.0L918.7 714.7M923.3 717.9L918.7 714.7L924.0 712.5M970.5 718.0L941.7 715.8M946.5 718.9L941.7 715.8L946.9 713.5M993.2 718.0L965.0 719.2M970.1 721.7L965.0 719.2L969.9 716.2M788.7 796.1L765.5 811.7M771.2 811.1L765.5 811.7L768.1 806.6M947.8 744.0L919.7 750.8M925.2 752.3L919.7 750.8L923.9 747.0M970.5 744.0L943.7 753.3M949.3 754.3L943.7 753.3L947.5 749.1M993.2 744.0L970.0 754.2M975.7 754.7L970.0 754.2L973.5 749.7M993.2 770.1L966.7 775.3M972.1 777.0L966.7 775.3L971.1 771.7M811.4 796.1L788.3 810.3M794.0 810.0L788.3 810.3L791.2 805.4"/>
<path stroke="#a0e632" d="M243.4 67.3L216.7 80.8M222.4 81.0L216.7 80.8L219.9 76.1M220.7 93.3L189.7 101.7M195.2 103.0L189.7 101.7L193.8 97.7M266.2 119.3L234.2 121.7M239.4 124.0L234.2 121.7L239.0 118.6M220.7 145.4L191.2 158.0M196.8 158.5L191.2 158.0L194.7 153.5M266.2 145.4L235.3 150.0M240.7 151.9L235.3 150.0L239.9 146.6M334.3 197.4L304.2 198.7M309.3 201.2L304.2 198.7L309.1 195.7M584.2 197.4L562.5 218.3M568.0 216.8L562.5 218.3L564.2 212.9M607.0 197.4L582.5 215.0M588.2 214.3L582.5 215.0L585.0 209.9M311.6 275.5L285.8 290.5M291.5 290.3L285.8 290.5L288.8 285.6M357.0 301.5L345.0 330.8M349.4 327.2L345.0 330.8L344.4 325.2M379.8 301.5L360.8 328.8M365.9 326.3L360.8 328.8L361.5 323.2M493.4 249.5L490.0 278.0M493.3 273.3L490.0 278.0L487.9 272.7M584.2 275.5L582.5 305.0M585.5 300.2L582.5 305.0L580.1 299.8M629.7 249.5L600.0 255.8M605.5 257.4L600.0 255.8L604.3 252.1M607.0 275.5L576.7 281.7M582.1 283.3L576.7 281.7L581.0 278.0M311.6 353.6L290.5 375.0M296.0 373.3L290.5 375.0L292.1 369.5M288.9 405.7L264.7 425.0M270.3 424.0L264.7 425.0L266.9 419.7M357.0 405.7L329.7 417.2M335.3 417.7L329.7 417.2L333.2 412.7M379.8 405.7L362.0 430.0M367.1 427.6L362.0 430.0L362.8 424.4M402.5 379.6L393.0 409.2M397.1 405.2L393.0 409.2L391.9 403.6M425.2 379.6L422.8 408.3M426.0 403.6L422.8 408.3L420.5 403.1M447.9 405.7L438.0 436.3M442.1 432.4L438.0 436.3L437.0 430.7M402.5 431.7L397.5 462.5M401.0 458.0L397.5 462.5L395.6 457.1M493.4 431.7L498.3 462.5M500.2 457.1L498.3 462.5L494.9 458.0M470.6 457.7L460.3 485.3M464.6 481.6L460.3 485.3L459.5 479.7M720.6 353.6L687.5 359.2M692.9 361.0L687.5 359.2L692.0 355.7M607.0 379.6L575.0 390.0M580.6 391.0L575.0 390.0L578.9 385.9M652.4 379.6L637.5 408.3M642.2 405.1L637.5 408.3L637.4 402.6M743.3 379.6L718.7 398.7M724.3 397.8L718.7 398.7L721.0 393.5M652.4 405.7L635.5 432.5M640.5 429.7L635.5 432.5L635.9 426.8M834.2 379.6L801.3 380.0M806.4 382.7L801.3 380.0L806.3 377.2M834.2 405.7L802.5 404.2M807.4 407.1L802.5 404.2L807.6 401.7M493.4 535.8L482.5 562.8M486.9 559.2L482.5 562.8L481.8 557.2M743.3 561.8L713.3 557.5M717.9 560.9L713.3 557.5L718.7 555.5M766.0 561.8L734.7 556.3M739.1 559.9L734.7 556.3L740.1 554.5M856.9 509.8L828.7 528.3M834.3 527.9L828.7 528.3L831.4 523.3M879.6 509.8L855.8 534.2M861.3 532.5L855.8 534.2L857.4 528.7M902.3 509.8L884.5 536.7M889.5 534.0L884.5 536.7L885.0 531.0M925.0 509.8L913.0 539.2M917.4 535.6L913.0 539.2L912.4 533.5M925.0 535.8L913.7 564.2M918.1 560.5L913.7 564.2L913.0 558.5M788.7 666.0L757.5 667.2M762.6 669.7L757.5 667.2L762.4 664.3M970.5 613.9L943.7 596.7M946.4 601.7L943.7 596.7L949.4 597.1M925.0 639.9L894.5 624.7M897.8 629.3L894.5 624.7L900.2 624.5M879.6 666.0L846.7 659.2M851.0 662.8L846.7 659.2L852.1 657.5M993.2 666.0L960.8 654.7M964.7 658.9L960.8 654.7L966.5 653.7M811.4 692.0L781.3 707.2M787.0 707.3L781.3 707.2L784.6 702.5M925.0 692.0L890.8 685.8M895.3 689.4L890.8 685.8L896.2 684.0M947.8 692.0L915.0 682.5M919.1 686.5L915.0 682.5L920.6 681.3M970.5 692.0L937.5 685.0M941.8 688.7L937.5 685.0L943.0 683.4M993.2 692.0L962.5 686.3M966.9 689.9L962.5 686.3L967.9 684.6M856.9 718.0L827.5 728.3M833.1 729.2L827.5 728.3L831.3 724.1M947.8 770.1L919.7 787.5M925.4 787.2L919.7 787.5L922.5 782.5M970.5 770.1L941.3 780.8M947.0 781.7L941.3 780.8L945.1 776.5M879.6 796.1L845.8 803.3M851.3 804.9L845.8 803.3L850.2 799.6M902.3 796.1L870.0 808.3M875.6 809.1L870.0 808.3L873.7 804.0M925.0 796.1L893.7 811.2M899.4 811.5L893.7 811.2L897.0 806.5M947.8 796.1L915.3 809.2M921.0 809.8L915.3 809.2L919.0 804.8M970.5 796.1L938.0 803.3M943.5 804.9L938.0 803.3L942.3 799.6M993.2 796.1L964.7 808.0M970.3 808.6L964.7 808.0L968.2 803.6"/>
<path stroke="#e6dc32" d="M220.7 119.3L184.5 127.2M190.0 128.8L184.5 127.2L188.8 123.4M243.4 119.3L204.2 123.3M209.4 125.5L204.2 123.3L208.9 120.1M243.4 145.4L209.2 156.7M214.8 157.7L209.2 156.7L213.1 152.5M266.2 171.4L230.8 176.7M236.2 178.6L230.8 176.7L235.4 173.2M220.7 197.4L187.5 213.8M193.2 214.1L187.5 213.8L190.8 209.2M334.3 301.5L320.8 335.3M325.2 331.7L320.8 335.3L320.2 329.7M379.8 327.6L353.3 349.2M358.9 348.1L353.3 349.2L355.5 343.9M629.7 275.5L591.7 273.8M596.6 276.8L591.7 273.8L596.8 271.3M607.0 301.5L570.0 300.8M575.0 303.6L570.0 300.8L575.1 298.2M607.0 327.6L570.8 329.5M576.0 331.9L570.8 329.5L575.7 326.5M334.3 353.6L309.5 378.0M315.0 376.4L309.5 378.0L311.2 372.5M357.0 353.6L326.7 375.8M332.3 375.1L326.7 375.8L329.1 370.7M379.8 353.6L349.5 372.5M355.2 372.2L349.5 372.5L352.3 367.5M311.6 379.6L283.3 404.2M288.9 402.9L283.3 404.2L285.3 398.8M334.3 379.6L310.5 404.2M315.9 402.5L310.5 404.2L312.0 398.7M357.0 379.6L324.5 401.2M330.2 400.7L324.5 401.2L327.2 396.1M379.8 379.6L353.0 403.8M358.5 402.5L353.0 403.8L354.9 398.5M402.5 405.7L396.7 439.2M400.2 434.7L396.7 439.2L394.8 433.8M425.2 405.7L417.2 442.0M420.9 437.7L417.2 442.0L415.6 436.5M447.9 431.7L430.3 465.0M435.1 461.8L430.3 465.0L430.3 459.3M470.6 431.7L466.3 465.3M469.7 460.7L466.3 465.3L464.3 460.0M720.6 379.6L686.2 389.7M691.7 390.9L686.2 389.7L690.2 385.7M743.3 405.7L718.3 431.3M723.8 429.6L718.3 431.3L719.9 425.8M766.0 405.7L749.2 437.5M753.9 434.3L749.2 437.5L749.1 431.8M788.7 405.7L773.7 437.2M778.3 433.8L773.7 437.2L773.4 431.5M834.2 431.7L803.7 453.3M809.3 452.7L803.7 453.3L806.2 448.2M856.9 457.7L824.7 479.7M830.3 479.1L824.7 479.7L827.3 474.6M879.6 483.8L850.8 510.0M856.4 508.6L850.8 510.0L852.7 504.6M993.2 613.9L954.7 605.0M958.9 608.8L954.7 605.0L960.2 603.5M947.8 639.9L916.2 620.0M919.0 625.0L916.2 620.0L921.9 620.4M970.5 639.9L937.5 619.7M940.3 624.6L937.5 619.7L943.2 620.0M993.2 639.9L956.7 627.5M960.5 631.7L956.7 627.5L962.3 626.5M902.3 666.0L867.5 653.3M871.3 657.6L867.5 653.3L873.1 652.5M925.0 666.0L891.3 650.0M894.7 654.6L891.3 650.0L897.0 649.7M947.8 666.0L913.7 651.7M917.2 656.1L913.7 651.7L919.3 651.1M970.5 666.0L936.7 652.0M940.3 656.4L936.7 652.0L942.3 651.4M879.6 692.0L842.5 689.7M847.3 692.7L842.5 689.7L847.7 687.3M902.3 692.0L864.2 686.7M868.8 690.1L864.2 686.7L869.5 684.7M925.0 718.0L888.3 715.3M893.1 718.4L888.3 715.3L893.5 713.0M879.6 744.0L842.5 749.7M847.9 751.6L842.5 749.7L847.0 746.2M925.0 744.0L886.7 748.7M892.0 750.8L886.7 748.7L891.3 745.4M879.6 770.1L840.0 772.5M845.2 774.9L840.0 772.5L844.8 769.5"/>
<path stroke="#e6af2d" d="M220.7 171.4L184.0 191.7M189.7 191.6L184.0 191.7L187.1 186.9M243.4 171.4L203.3 181.7M208.9 183.1L203.3 181.7L207.5 177.8M266.2 197.4L228.3 209.2M233.9 210.3L228.3 209.2L232.3 205.1M243.4 223.4L203.3 235.8M208.9 237.0L203.3 235.8L207.3 231.8M288.9 249.5L253.0 267.2M258.7 267.4L253.0 267.2L256.3 262.5M311.6 301.5L283.3 335.0M288.6 332.9L283.3 335.0L284.5 329.4M311.6 327.6L286.7 361.7M291.8 359.2L286.7 361.7L287.4 356.0M334.3 327.6L315.0 364.2M319.7 361.0L315.0 364.2L314.9 358.5M357.0 327.6L332.5 357.5M337.8 355.4L332.5 357.5L333.6 351.9M629.7 301.5L588.3 298.8M593.2 301.9L588.3 298.8L593.5 296.4M629.7 327.6L590.8 337.5M596.4 338.9L590.8 337.5L595.0 333.6M425.2 431.7L411.7 470.0M415.9 466.2L411.7 470.0L410.8 464.4M607.0 353.6L566.7 361.7M572.1 363.4L566.7 361.7L571.0 358.0M629.7 353.6L593.3 370.8M599.0 371.1L593.3 370.8L596.7 366.2M629.7 379.6L597.5 401.7M603.2 401.1L597.5 401.7L600.1 396.6M856.9 483.8L822.5 503.0M828.2 502.9L822.5 503.0L825.5 498.2M902.3 718.0L863.3 723.7M868.7 725.6L863.3 723.7L867.9 720.3M902.3 770.1L860.0 780.8M865.5 782.2L860.0 780.8L864.2 777.0M925.0 770.1L888.3 786.3M894.0 786.8L888.3 786.3L891.8 781.8"/>
<path stroke="#f08228" d="M266.2 223.4L220.0 238.3M225.6 239.4L220.0 238.3L223.9 234.2M879.6 718.0L838.7 729.7M844.2 730.9L838.7 729.7L842.7 725.7M902.3 744.0L856.7 747.5M861.9 749.8L856.7 747.5L861.5 744.4"/>
<path stroke="#fa3c3c" d="M243.4 197.4L194.5 214.7M200.1 215.6L194.5 214.7L198.3 210.4M266.2 249.5L217.5 269.7M223.2 270.3L217.5 269.7L221.1 265.2M266.2 275.5L219.7 298.3M225.4 298.6L219.7 298.3L223.0 293.7M288.9 275.5L244.7 296.3M250.4 296.7L244.7 296.3L248.0 291.7"/>
<path stroke="#f00082" d="M288.9 301.5L244.2 333.3M249.8 332.6L244.2 333.3L246.7 328.2"/>
</g>
<g clip-path="url(#fr)" fill="none" stroke="#000" stroke-width="2.05" stroke-linejoin="round"><polyline points="202.8,522.7 219.3,534.8 254.1,550.6 296.3,558.7 259.6,575.9 289,569.6 302.9,567.1 331.9,591.6 338.5,640.4 367,665.7 402.6,720 408.8,731 408.8,789.6 389.8,819.6"/><polyline points="202.8,704.2 232.2,699 202.8,724.3"/></g>
<rect x="202.2" y="79.4" width="795.4000000000001" height="741.2" fill="none" stroke="#000" stroke-width="1.7"/>
<rect x="202.2" y="79.4" width="795.4000000000001" height="741.2" fill="none" stroke="#c8c8c8" stroke-width="1.3" stroke-dasharray="1.8 7.78" stroke-dashoffset="4"/>
<g stroke="#000" stroke-width="1.6"><line x1="202.2" y1="820.6" x2="202.2" y2="825.6"/><line x1="281.7" y1="820.6" x2="281.7" y2="825.6"/><line x1="361.3" y1="820.6" x2="361.3" y2="825.6"/><line x1="440.8" y1="820.6" x2="440.8" y2="825.6"/><line x1="520.4" y1="820.6" x2="520.4" y2="825.6"/><line x1="599.9" y1="820.6" x2="599.9" y2="825.6"/><line x1="679.4" y1="820.6" x2="679.4" y2="825.6"/><line x1="759.0" y1="820.6" x2="759.0" y2="825.6"/><line x1="838.5" y1="820.6" x2="838.5" y2="825.6"/><line x1="918.1" y1="820.6" x2="918.1" y2="825.6"/><line x1="997.6" y1="820.6" x2="997.6" y2="825.6"/><line x1="197.2" y1="79.4" x2="202.2" y2="79.4"/><line x1="197.2" y1="172.1" x2="202.2" y2="172.1"/><line x1="197.2" y1="264.7" x2="202.2" y2="264.7"/><line x1="197.2" y1="357.4" x2="202.2" y2="357.4"/><line x1="197.2" y1="450.0" x2="202.2" y2="450.0"/><line x1="197.2" y1="542.6" x2="202.2" y2="542.6"/><line x1="197.2" y1="635.3" x2="202.2" y2="635.3"/><line x1="197.2" y1="728.0" x2="202.2" y2="728.0"/><line x1="197.2" y1="820.6" x2="202.2" y2="820.6"/></g>
<g font-size="17.3px" fill="#000" class="thin" style="stroke-width:.12px"><text transform="translate(202.5 840.7) scale(.925 1)" text-anchor="middle">84.9W</text><text transform="translate(282.0 840.7) scale(.925 1)" text-anchor="middle">84.8W</text><text transform="translate(361.6 840.7) scale(.925 1)" text-anchor="middle">84.7W</text><text transform="translate(441.1 840.7) scale(.925 1)" text-anchor="middle">84.6W</text><text transform="translate(520.7 840.7) scale(.925 1)" text-anchor="middle">84.5W</text><text transform="translate(600.2 840.7) scale(.925 1)" text-anchor="middle">84.4W</text><text transform="translate(679.7 840.7) scale(.925 1)" text-anchor="middle">84.3W</text><text transform="translate(759.3 840.7) scale(.925 1)" text-anchor="middle">84.2W</text><text transform="translate(838.8 840.7) scale(.925 1)" text-anchor="middle">84.1W</text><text transform="translate(918.4 840.7) scale(.925 1)" text-anchor="middle">84W</text><text transform="translate(997.9 840.7) scale(.925 1)" text-anchor="middle">83.9W</text><text transform="translate(192.2 85.7) scale(.925 1)" text-anchor="end">10.5N</text><text transform="translate(192.2 178.4) scale(.925 1)" text-anchor="end">10.4N</text><text transform="translate(192.2 271.0) scale(.925 1)" text-anchor="end">10.3N</text><text transform="translate(192.2 363.7) scale(.925 1)" text-anchor="end">10.2N</text><text transform="translate(192.2 456.3) scale(.925 1)" text-anchor="end">10.1N</text><text transform="translate(192.2 548.9) scale(.925 1)" text-anchor="end">10N</text><text transform="translate(192.2 641.6) scale(.925 1)" text-anchor="end">9.9N</text><text transform="translate(192.2 734.2) scale(.925 1)" text-anchor="end">9.8N</text><text transform="translate(192.2 826.9) scale(.925 1)" text-anchor="end">9.7N</text></g>
<g font-size="24.4px" fill="#000" class="thin" style="stroke-width:.75px"><text x="628.8" y="304.6" text-anchor="middle">V</text><text x="551.5" y="464.0" text-anchor="middle">SR</text><text x="837.5" y="421.3" text-anchor="middle">B</text><text x="759.9" y="548.3" text-anchor="middle">A</text><text x="990.3" y="548.3" text-anchor="middle">I</text><text x="854.6" y="622.3" text-anchor="middle">SJ</text><text x="968.8" y="643.8" text-anchor="middle">C</text><text x="814.9" y="718.0" text-anchor="middle">E</text></g>
<rect x="1055" y="132.00" width="22" height="53.27" fill="#f00082"/><rect x="1055" y="184.97" width="22" height="53.27" fill="#fa3c3c"/><rect x="1055" y="237.95" width="22" height="53.27" fill="#f08228"/><rect x="1055" y="290.93" width="22" height="53.27" fill="#e6af2d"/><rect x="1055" y="343.90" width="22" height="53.27" fill="#e6dc32"/><rect x="1055" y="396.88" width="22" height="53.27" fill="#a0e632"/><rect x="1055" y="449.85" width="22" height="53.27" fill="#00d28c"/><rect x="1055" y="502.82" width="22" height="53.27" fill="#00c8c8"/><rect x="1055" y="555.80" width="22" height="53.27" fill="#00a0ff"/><rect x="1055" y="608.78" width="22" height="53.27" fill="#1e3cff"/><rect x="1055" y="661.75" width="22" height="53.27" fill="#8200dc"/><rect x="1055" y="714.73" width="22" height="53.27" fill="#a000c8"/>
<g font-size="22.2px" fill="#000" class="thin" style="stroke-width:.4px;letter-spacing:.25px"><text x="1083.2" y="193.0">49.5</text><text x="1083.2" y="245.9">45</text><text x="1083.2" y="298.9">40.5</text><text x="1083.2" y="351.9">36</text><text x="1083.2" y="404.9">31.5</text><text x="1083.2" y="457.9">27</text><text x="1083.2" y="510.8">22.5</text><text x="1083.2" y="563.8">18</text><text x="1083.2" y="616.8">13.5</text><text x="1083.2" y="669.8">9</text><text x="1083.2" y="722.7">4.5</text></g>
<g font-size="36px" fill="#000" class="thin" style="stroke-width:1.2px"><text transform="translate(37.0 60.7) scale(0.839 1)" textLength="68.0" lengthAdjust="spacing">IMN</text><text transform="translate(122.5 60.7) scale(0.823 1)" textLength="84.4" lengthAdjust="spacing">WRF</text><text transform="translate(224.0 60.7) scale(0.805 1)" textLength="38.5" lengthAdjust="spacing">11</text><text transform="translate(280.0 60.7) scale(0.996 1)" textLength="154.6" lengthAdjust="spacing">Direccion</text><text transform="translate(454.0 60.7) scale(1.000 1)" textLength="19.0" lengthAdjust="spacing">y</text><text transform="translate(492.0 60.7) scale(0.996 1)" textLength="156.7" lengthAdjust="spacing">velocidad</text><text transform="translate(670.0 60.7) scale(0.950 1)" textLength="49.5" lengthAdjust="spacing">del</text><text transform="translate(738.0 60.7) scale(1.000 1)" textLength="99.0" lengthAdjust="spacing">viento</text><text transform="translate(858.0 60.7) scale(1.000 1)" textLength="79.0" lengthAdjust="spacing">(925</text><text transform="translate(958.5 60.7) scale(1.000 1)" textLength="143.0" lengthAdjust="spacing">hPa)(km</text><text transform="translate(1129.0 60.7) scale(1.000 1)" textLength="33.0" lengthAdjust="spacing">h)</text></g><text transform="translate(94.3 68.7) scale(1.95 1)" font-size="52.5px" class="thin" style="stroke-width:3.25px">/</text><text transform="translate(1102.0 68.7) scale(1.95 1)" font-size="52.5px" class="thin" style="stroke-width:3.25px">/</text><text transform="translate(190.6 60.7) scale(1.22 1)" font-size="36px" class="thin" style="stroke-width:1.2px">−</text>
<g font-size="23.3px" fill="#222" class="thin" style="stroke-width:0.7px"><text transform="translate(382.0 876.7) scale(1.080 1)" textLength="95.4" lengthAdjust="spacing">Instituto</text><text transform="translate(500.0 876.7) scale(1.080 1)" textLength="162.0" lengthAdjust="spacing">Meteorologico</text><text transform="translate(690.0 876.7) scale(1.080 1)" textLength="93.5" lengthAdjust="spacing">Nacional</text><text transform="translate(814.0 876.7) scale(1.080 1)" textLength="65.7" lengthAdjust="spacing">Costa</text><text transform="translate(899.0 876.7) scale(1.080 1)" textLength="50.0" lengthAdjust="spacing">Rica</text><text transform="translate(975.0 876.7) scale(1.080 1)" textLength="177.8" lengthAdjust="spacing">16Z04SEP2025</text></g>
<path d="M780 873H835M830.3 869.6L835 873L830.3 876.4" fill="none" stroke="#000" stroke-width="1.3"/>
<text transform="translate(807.6 895.2) scale(1.42 1)" font-size="18.8px" fill="#222" text-anchor="middle" class="thin" style="stroke-width:.5px">50</text>
</svg>
</body></html>
